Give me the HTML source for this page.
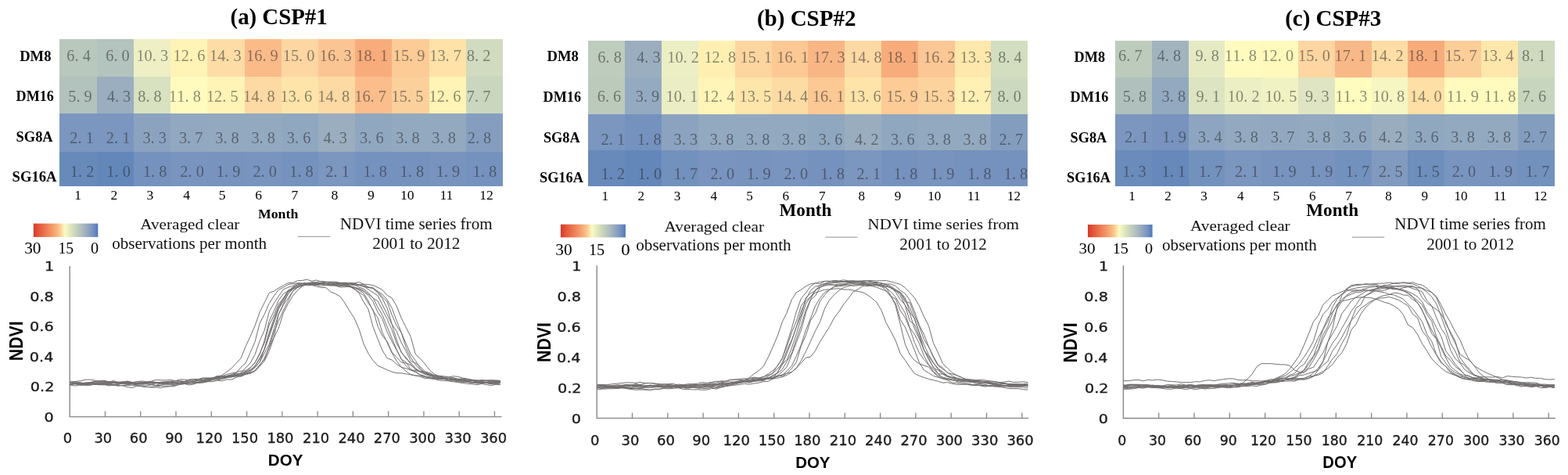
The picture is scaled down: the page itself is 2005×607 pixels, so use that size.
<!DOCTYPE html>
<html><head><meta charset="utf-8"><title>CSP figure</title>
<style>
html,body{margin:0;padding:0;background:#fff;}
svg{display:block;}
.cv{font-family:'Liberation Serif','Times New Roman',serif;font-size:20.3px;fill:#262626;fill-opacity:0.52;}
</style></head><body>
<svg width="2005" height="607" viewBox="0 0 2005 607">
<defs><linearGradient id="cb" x1="0" x2="1" y1="0" y2="0">
<stop offset="0" stop-color="#d8392a"/><stop offset="0.1" stop-color="#e55c3e"/><stop offset="0.2" stop-color="#ee7c55"/>
<stop offset="0.3" stop-color="#f49d6c"/><stop offset="0.38" stop-color="#f8bc85"/><stop offset="0.43" stop-color="#fcd69a"/>
<stop offset="0.46" stop-color="#fcedb2"/><stop offset="0.485" stop-color="#fafbc2"/><stop offset="0.53" stop-color="#ecf1c1"/><stop offset="0.62" stop-color="#d0dbbd"/>
<stop offset="0.7" stop-color="#bdc8bc"/><stop offset="0.78" stop-color="#a5b6bf"/><stop offset="0.86" stop-color="#8ca2c1"/>
<stop offset="0.93" stop-color="#7391c0"/><stop offset="1" stop-color="#4b78b8"/></linearGradient></defs>
<rect width="2005" height="607" fill="#fff"/>
<rect x="76" y="50" width="48" height="48" fill="#b9c8bc"/>
<rect x="124" y="50" width="47" height="48" fill="#b3c3bd"/>
<rect x="171" y="50" width="47" height="48" fill="#eeefc4"/>
<rect x="218" y="50" width="47" height="48" fill="#fff3b5"/>
<rect x="265" y="50" width="48" height="48" fill="#fddda5"/>
<rect x="313" y="50" width="47" height="48" fill="#fabb89"/>
<rect x="360" y="50" width="47" height="48" fill="#fdd6a1"/>
<rect x="407" y="50" width="47" height="48" fill="#fbc593"/>
<rect x="454" y="50" width="47" height="48" fill="#f8ac7c"/>
<rect x="501" y="50" width="48" height="48" fill="#fccb96"/>
<rect x="549" y="50" width="47" height="48" fill="#fee2a7"/>
<rect x="596" y="50" width="47" height="48" fill="#d0dbbf"/>
<rect x="76" y="98" width="48" height="47" fill="#b2c2bd"/>
<rect x="124" y="98" width="47" height="47" fill="#9aaebf"/>
<rect x="171" y="98" width="47" height="47" fill="#d8e1c0"/>
<rect x="218" y="98" width="47" height="47" fill="#fffbbf"/>
<rect x="265" y="98" width="48" height="47" fill="#fff4b6"/>
<rect x="313" y="98" width="47" height="47" fill="#fdd9a3"/>
<rect x="360" y="98" width="47" height="47" fill="#fee4a8"/>
<rect x="407" y="98" width="47" height="47" fill="#fdd9a3"/>
<rect x="454" y="98" width="47" height="47" fill="#fabd8b"/>
<rect x="501" y="98" width="48" height="47" fill="#fcd09b"/>
<rect x="549" y="98" width="47" height="47" fill="#fff3b5"/>
<rect x="596" y="98" width="47" height="47" fill="#cad6be"/>
<rect x="76" y="145" width="48" height="49" fill="#7b96bf"/>
<rect x="124" y="145" width="47" height="49" fill="#7b96bf"/>
<rect x="171" y="145" width="47" height="49" fill="#8ca3c0"/>
<rect x="218" y="145" width="47" height="49" fill="#92a8c0"/>
<rect x="265" y="145" width="48" height="49" fill="#93a9c0"/>
<rect x="313" y="145" width="47" height="49" fill="#93a9c0"/>
<rect x="360" y="145" width="47" height="49" fill="#90a7c0"/>
<rect x="407" y="145" width="47" height="49" fill="#9aaebf"/>
<rect x="454" y="145" width="47" height="49" fill="#90a7c0"/>
<rect x="501" y="145" width="48" height="49" fill="#93a9c0"/>
<rect x="549" y="145" width="47" height="49" fill="#93a9c0"/>
<rect x="596" y="145" width="47" height="49" fill="#859ebf"/>
<rect x="76" y="194" width="48" height="44" fill="#688abb"/>
<rect x="124" y="194" width="47" height="44" fill="#6487ba"/>
<rect x="171" y="194" width="47" height="44" fill="#7592be"/>
<rect x="218" y="194" width="47" height="44" fill="#7995bf"/>
<rect x="265" y="194" width="48" height="44" fill="#7793be"/>
<rect x="313" y="194" width="47" height="44" fill="#7995bf"/>
<rect x="360" y="194" width="47" height="44" fill="#7592be"/>
<rect x="407" y="194" width="47" height="44" fill="#7b96bf"/>
<rect x="454" y="194" width="47" height="44" fill="#7592be"/>
<rect x="501" y="194" width="48" height="44" fill="#7592be"/>
<rect x="549" y="194" width="47" height="44" fill="#7793be"/>
<rect x="596" y="194" width="47" height="44" fill="#7592be"/>
<text x="85.3 95.5 105.7" y="78.4" class="cv">6.4</text>
<text x="135.2 145.4 155.6" y="78.4" class="cv">6.0</text>
<text x="174.4 184.6 194.8 205" y="78.4" class="cv">10.3</text>
<text x="221.6 231.8 242 252.2" y="78.4" class="cv">12.6</text>
<text x="268 278.2 288.4 298.6" y="78.4" class="cv">14.3</text>
<text x="315 325.2 335.4 345.6" y="78.4" class="cv">16.9</text>
<text x="361.7 371.9 382.1 392.3" y="78.4" class="cv">15.0</text>
<text x="408.8 419 429.2 439.4" y="78.4" class="cv">16.3</text>
<text x="455.3 465.5 475.7 485.9" y="78.4" class="cv">18.1</text>
<text x="502.7 512.9 523.1 533.3" y="78.4" class="cv">15.9</text>
<text x="549.2 559.4 569.6 579.8" y="78.4" class="cv">13.7</text>
<text x="596.8 607 617.2" y="78.4" class="cv">8.2</text>
<text x="87.2 97.4 107.6" y="129.6" class="cv">5.9</text>
<text x="136.7 146.9 157.1" y="129.6" class="cv">4.3</text>
<text x="176.2 186.4 196.6" y="129.6" class="cv">8.8</text>
<text x="216.1 226.3 236.5 246.7" y="129.6" class="cv">11.8</text>
<text x="263.9 274.1 284.3 294.5" y="129.6" class="cv">12.5</text>
<text x="311 321.2 331.4 341.6" y="129.6" class="cv">14.8</text>
<text x="358.5 368.7 378.9 389.1" y="129.6" class="cv">13.6</text>
<text x="406.3 416.5 426.7 436.9" y="129.6" class="cv">14.8</text>
<text x="453.2 463.4 473.6 483.8" y="129.6" class="cv">16.7</text>
<text x="500.6 510.8 521 531.2" y="129.6" class="cv">15.5</text>
<text x="548.6 558.8 569 579.2" y="129.6" class="cv">12.6</text>
<text x="596.8 607 617.2" y="129.6" class="cv">7.7</text>
<text x="89.3 99.5 109.7" y="182.7" class="cv">2.1</text>
<text x="135.8 146 156.2" y="182.7" class="cv">2.1</text>
<text x="182.4 192.6 202.8" y="182.7" class="cv">3.3</text>
<text x="228.9 239.1 249.3" y="182.7" class="cv">3.7</text>
<text x="275.2 285.4 295.6" y="182.7" class="cv">3.8</text>
<text x="321.4 331.6 341.8" y="182.7" class="cv">3.8</text>
<text x="366.8 377 387.2" y="182.7" class="cv">3.6</text>
<text x="413.4 423.6 433.8" y="182.7" class="cv">4.3</text>
<text x="460 470.2 480.4" y="182.7" class="cv">3.6</text>
<text x="506.2 516.4 526.6" y="182.7" class="cv">3.8</text>
<text x="552.3 562.5 572.7" y="182.7" class="cv">3.8</text>
<text x="597.7 607.9 618.1" y="182.7" class="cv">2.8</text>
<text x="89.8 100 110.2" y="225.9" class="cv">1.2</text>
<text x="136.3 146.5 156.7" y="225.9" class="cv">1.0</text>
<text x="182.9 193.1 203.3" y="225.9" class="cv">1.8</text>
<text x="230.3 240.5 250.7" y="225.9" class="cv">2.0</text>
<text x="276.8 287 297.2" y="225.9" class="cv">1.9</text>
<text x="323.4 333.6 343.8" y="225.9" class="cv">2.0</text>
<text x="370.2 380.4 390.6" y="225.9" class="cv">1.8</text>
<text x="416.3 426.5 436.7" y="225.9" class="cv">2.1</text>
<text x="464.4 474.6 484.8" y="225.9" class="cv">1.8</text>
<text x="511.6 521.8 532" y="225.9" class="cv">1.8</text>
<text x="557.7 567.9 578.1" y="225.9" class="cv">1.9</text>
<text x="604.6 614.8 625" y="225.9" class="cv">1.8</text>
<rect x="42.8" y="285.6" width="82.5" height="17.3" fill="url(#cb)"/>
<line x1="380.9" y1="302.4" x2="422.4" y2="302.4" stroke="#a6a6a6" stroke-width="1.3"/>
<path d="M89.2 339.9V532.6H641.5" fill="none" stroke="#868686" stroke-width="1.4"/>
<path d="M134.47 532.6v-7M179.74 532.6v-7M225.01 532.6v-7M270.28 532.6v-7M315.55 532.6v-7M360.82 532.6v-7M406.09 532.6v-7M451.36 532.6v-7M496.63 532.6v-7M541.9 532.6v-7M587.17 532.6v-7M632.44 532.6v-7" stroke="#868686" stroke-width="1.3"/>
<g fill="none" stroke="#726e6e" stroke-width="1" stroke-linejoin="round"><path d="M89.2,490.36 90.71,490.86 96.75,490.77 102.78,490.35 108.82,489.96 114.85,488.72 120.89,487.37 126.92,486.65 132.96,486.6 139,488.05 145.03,489.31 151.07,488.77 157.11,489.93 163.14,490.25 169.18,489.32 175.21,489.48 181.25,488.61 187.28,489.18 193.32,489.52 199.36,490.07 205.39,489.56 211.43,489.53 217.46,488.02 223.5,486.84 229.54,486.73 235.57,487.4 241.61,487.37 247.64,487.92 253.68,488.1 259.72,486.28 265.75,484.84 271.79,483.64 277.82,481.09 283.86,479.52 289.9,475.38 295.93,470.78 301.97,464.24 308,457.82 314.04,442.85 320.08,429.92 326.11,416.01 332.15,398.76 338.19,386.75 344.22,374.31 350.26,372 356.29,368.07 362.33,364.82 368.36,361.65 374.4,361.4 380.44,358.73 386.47,358.39 392.51,357.16 398.54,359.23 404.58,358.01 410.62,360.09 416.65,360.5 422.69,360.11 428.72,360.12 434.76,361.22 440.8,361.28 446.83,361.58 452.87,363.53 458.9,366.87 464.94,369.02 470.98,374.17 477.01,381.22 483.05,384.79 489.08,396.27 495.12,407.88 501.16,421.58 507.19,438.88 513.23,449.58 519.26,458.61 525.3,463.44 531.34,470.59 537.37,475.22 543.41,476.35 549.44,477.41 555.48,480.29 561.52,480.99 567.55,482.94 573.59,483.63 579.62,484.02 585.66,484.42 591.7,484.09 597.73,485.36 603.77,485.22 609.81,487.88 615.84,488.79 621.88,489.06 627.91,490.61 633.95,489.22 639.99,488.71"/><path d="M89.2,490.43 90.71,490.45 96.75,490.16 102.78,492.25 108.82,491.3 114.85,491.9 120.89,491.2 126.92,491.64 132.96,491.88 139,491.01 145.03,491.44 151.07,491.1 157.11,490.05 163.14,490.42 169.18,491.05 175.21,490.83 181.25,490.45 187.28,490.87 193.32,490.96 199.36,492.61 205.39,490.15 211.43,491.41 217.46,490.83 223.5,491.74 229.54,489.7 235.57,489.3 241.61,489.75 247.64,490.05 253.68,489.18 259.72,487.58 265.75,486.63 271.79,484.86 277.82,483.98 283.86,482.59 289.9,480.34 295.93,478.79 301.97,476.62 308,469.37 314.04,464.11 320.08,450.52 326.11,436.51 332.15,413.14 338.19,401.52 344.22,387.58 350.26,378.11 356.29,370.32 362.33,367.23 368.36,363.67 374.4,362.64 380.44,361.64 386.47,361.85 392.51,361.31 398.54,361.16 404.58,361.28 410.62,361.67 416.65,360.77 422.69,361.2 428.72,361.59 434.76,362.19 440.8,361.44 446.83,361.52 452.87,362.51 458.9,363.72 464.94,363.4 470.98,366.91 477.01,367.77 483.05,372.42 489.08,379.71 495.12,385.67 501.16,402.56 507.19,416.26 513.23,425.38 519.26,444.44 525.3,457.24 531.34,465.92 537.37,472.43 543.41,476.29 549.44,478.91 555.48,482.08 561.52,482.82 567.55,484.27 573.59,485.5 579.62,485.58 585.66,487.24 591.7,487.31 597.73,488.43 603.77,489.59 609.81,489.15 615.84,489.6 621.88,489.07 627.91,489.33 633.95,489.77 639.99,491.65"/><path d="M89.2,490.83 90.71,490.69 96.75,490.92 102.78,491.95 108.82,489.75 114.85,490.51 120.89,489.14 126.92,488.9 132.96,489.2 139,488.04 145.03,489.08 151.07,489.16 157.11,487.9 163.14,488.79 169.18,490.55 175.21,491.82 181.25,493.98 187.28,494.21 193.32,495.08 199.36,494.92 205.39,495.58 211.43,494.4 217.46,493.88 223.5,493.51 229.54,491.28 235.57,489.87 241.61,488.06 247.64,486.05 253.68,485.4 259.72,483.41 265.75,483.71 271.79,483.2 277.82,481.03 283.86,481.93 289.9,480.54 295.93,479.3 301.97,478.22 308,476.8 314.04,470.04 320.08,464.04 326.11,452.83 332.15,435.48 338.19,422.04 344.22,398.11 350.26,387.65 356.29,378.49 362.33,369.74 368.36,367.23 374.4,365.29 380.44,362.44 386.47,363.08 392.51,362.5 398.54,362.5 404.58,363.01 410.62,363.24 416.65,364.3 422.69,363.25 428.72,364.85 434.76,365.63 440.8,364.87 446.83,366.72 452.87,366.86 458.9,369.62 464.94,372.7 470.98,377.54 477.01,385.25 483.05,398.99 489.08,407.9 495.12,424.39 501.16,436.35 507.19,447.4 513.23,459.27 519.26,467.69 525.3,473.03 531.34,475.48 537.37,479.18 543.41,481.45 549.44,481.71 555.48,483.7 561.52,484.65 567.55,484.57 573.59,483.92 579.62,484.36 585.66,485.32 591.7,484.67 597.73,485.81 603.77,485.76 609.81,486.46 615.84,486.33 621.88,486.58 627.91,487.68 633.95,487.37 639.99,488.07"/><path d="M89.2,490.78 90.71,491.52 96.75,489.45 102.78,490.44 108.82,489.11 114.85,488.78 120.89,489.07 126.92,490.05 132.96,489.87 139,491.4 145.03,489.46 151.07,490.86 157.11,489.77 163.14,489.16 169.18,490.4 175.21,490.71 181.25,491.42 187.28,490.46 193.32,491.75 199.36,489.22 205.39,488.5 211.43,489.34 217.46,489.61 223.5,489.25 229.54,489.07 235.57,488.19 241.61,488 247.64,487.19 253.68,485.76 259.72,486.27 265.75,485.71 271.79,484.8 277.82,484.35 283.86,484.46 289.9,482.82 295.93,480.32 301.97,479.51 308,477.17 314.04,474.71 320.08,470.19 326.11,463.18 332.15,452.89 338.19,435.11 344.22,410.1 350.26,397.49 356.29,383.75 362.33,375.44 368.36,371.95 374.4,367.37 380.44,365.13 386.47,364.38 392.51,364.7 398.54,364.35 404.58,365.97 410.62,367.39 416.65,367.56 422.69,372.85 428.72,375.39 434.76,378.71 440.8,387.01 446.83,397.16 452.87,406.26 458.9,420.06 464.94,439.12 470.98,451.61 477.01,460.64 483.05,467.37 489.08,469.88 495.12,472.7 501.16,475.28 507.19,476.64 513.23,476.85 519.26,477.92 525.3,478.42 531.34,479.99 537.37,480.08 543.41,481.99 549.44,482.45 555.48,483.63 561.52,483.89 567.55,482.59 573.59,483.75 579.62,485.12 585.66,486.51 591.7,486.77 597.73,488.45 603.77,488.22 609.81,488.34 615.84,487.15 621.88,489.07 627.91,488.95 633.95,488.43 639.99,489.32"/><path d="M89.2,487.62 90.71,487.97 96.75,487.38 102.78,486.72 108.82,485.27 114.85,485.1 120.89,485.97 126.92,487.64 132.96,488.37 139,488.34 145.03,488.47 151.07,488.22 157.11,488.02 163.14,487.06 169.18,488.57 175.21,487.83 181.25,487.02 187.28,487.74 193.32,487.26 199.36,485.48 205.39,485.74 211.43,485.9 217.46,485.43 223.5,486.45 229.54,487.32 235.57,487.49 241.61,485 247.64,484.46 253.68,484.3 259.72,482.97 265.75,482.91 271.79,482.88 277.82,481.44 283.86,480.68 289.9,478.47 295.93,477.06 301.97,475.76 308,474.24 314.04,473.79 320.08,469.78 326.11,463.5 332.15,451.35 338.19,438.27 344.22,415.14 350.26,403.01 356.29,388.23 362.33,381.55 368.36,370.85 374.4,369.02 380.44,366.68 386.47,364.65 392.51,362.83 398.54,361.68 404.58,361.9 410.62,362.56 416.65,364.62 422.69,364.44 428.72,363.58 434.76,364.56 440.8,364.57 446.83,365.09 452.87,369.13 458.9,374.31 464.94,385.63 470.98,395.15 477.01,417.71 483.05,433.23 489.08,447.95 495.12,457.76 501.16,460.03 507.19,465.54 513.23,469.36 519.26,470.88 525.3,472.95 531.34,473.5 537.37,475.24 543.41,477.9 549.44,478.58 555.48,480.32 561.52,480.72 567.55,482.02 573.59,481.85 579.62,480.72 585.66,481.31 591.7,483.09 597.73,483.96 603.77,485.46 609.81,485.98 615.84,486.4 621.88,486.36 627.91,486.07 633.95,486.64 639.99,487.27"/><path d="M89.2,492.82 90.71,492.2 96.75,493.1 102.78,491.49 108.82,492.12 114.85,492.07 120.89,491.1 126.92,490.92 132.96,491.46 139,491.75 145.03,492.51 151.07,491.93 157.11,492.91 163.14,492.39 169.18,492.19 175.21,492.99 181.25,492.98 187.28,492.91 193.32,491.82 199.36,492.42 205.39,492.53 211.43,490.38 217.46,491.3 223.5,490.53 229.54,489.68 235.57,490.5 241.61,489.15 247.64,488.89 253.68,489.2 259.72,488.55 265.75,487.66 271.79,487.77 277.82,486.11 283.86,486.81 289.9,484.94 295.93,485.11 301.97,482.29 308,480.36 314.04,477.82 320.08,474.77 326.11,467.68 332.15,458.85 338.19,445.93 344.22,424.78 350.26,407.33 356.29,391.74 362.33,380.64 368.36,373.23 374.4,368.56 380.44,367.22 386.47,364.56 392.51,363.56 398.54,363.7 404.58,363.49 410.62,363.44 416.65,362.41 422.69,363.1 428.72,362.17 434.76,362.57 440.8,362.58 446.83,364.88 452.87,368.48 458.9,370.55 464.94,374.65 470.98,384.54 477.01,397.23 483.05,405.9 489.08,425.17 495.12,437.86 501.16,451.1 507.19,461.3 513.23,469.16 519.26,474.33 525.3,478.89 531.34,480.1 537.37,481.22 543.41,483.55 549.44,483.75 555.48,484.56 561.52,486.03 567.55,486.45 573.59,486.94 579.62,487.84 585.66,488.49 591.7,489.61 597.73,490.34 603.77,490.82 609.81,491.72 615.84,490.45 621.88,491.54 627.91,492.51 633.95,491.3 639.99,491.37"/><path d="M89.2,488.4 90.71,488.59 96.75,487.86 102.78,489.45 108.82,489.42 114.85,489.27 120.89,490.36 126.92,490.99 132.96,490.12 139,489.06 145.03,489.46 151.07,489.53 157.11,489.72 163.14,488.41 169.18,488.81 175.21,489.81 181.25,488.87 187.28,489.73 193.32,488.5 199.36,488.65 205.39,489.05 211.43,488.57 217.46,489.06 223.5,488.56 229.54,487.6 235.57,488.18 241.61,487.21 247.64,487.83 253.68,485.53 259.72,485.4 265.75,484.62 271.79,483.56 277.82,483.86 283.86,482.54 289.9,482.51 295.93,480.81 301.97,479.79 308,477.32 314.04,476.38 320.08,473.25 326.11,467.43 332.15,457.46 338.19,446.64 344.22,430.2 350.26,412.37 356.29,394.63 362.33,385.21 368.36,375.27 374.4,369.71 380.44,366.48 386.47,364.75 392.51,363.85 398.54,361.85 404.58,363.05 410.62,361.89 416.65,362.51 422.69,363.14 428.72,363.25 434.76,364.16 440.8,365.27 446.83,365.43 452.87,367.17 458.9,368.56 464.94,370.94 470.98,375.98 477.01,380.35 483.05,392.76 489.08,402.93 495.12,417.59 501.16,432.65 507.19,446.72 513.23,458.98 519.26,462.88 525.3,471.99 531.34,474.92 537.37,478.77 543.41,480.47 549.44,483.18 555.48,482.48 561.52,483.42 567.55,483.14 573.59,483.51 579.62,482.79 585.66,484.26 591.7,484.16 597.73,485.17 603.77,486.3 609.81,487.71 615.84,488.42 621.88,489.09 627.91,489.32 633.95,490.34 639.99,488.89"/><path d="M89.2,490.39 90.71,490.63 96.75,488.78 102.78,489.84 108.82,489.35 114.85,488.99 120.89,490.57 126.92,489.76 132.96,489.51 139,490.82 145.03,491.26 151.07,492.37 157.11,492.75 163.14,494.73 169.18,495.37 175.21,493.11 181.25,493.58 187.28,494.59 193.32,494.42 199.36,493.87 205.39,493.19 211.43,493.2 217.46,493.2 223.5,492.42 229.54,491.35 235.57,490.5 241.61,490.14 247.64,489.34 253.68,489.19 259.72,489.08 265.75,487.57 271.79,484.33 277.82,483.1 283.86,482.79 289.9,481.72 295.93,480.03 301.97,479.74 308,478.83 314.04,477.25 320.08,475.26 326.11,469.41 332.15,462.95 338.19,445.67 344.22,426.57 350.26,411.17 356.29,393.28 362.33,382.88 368.36,372.88 374.4,366.67 380.44,363.82 386.47,362.86 392.51,362.95 398.54,363.22 404.58,362.5 410.62,362.3 416.65,360.64 422.69,361.52 428.72,361.82 434.76,362.06 440.8,362.05 446.83,361.46 452.87,362.01 458.9,364.31 464.94,365.74 470.98,369.82 477.01,373.83 483.05,377.77 489.08,389.68 495.12,401.97 501.16,414.65 507.19,434.38 513.23,450.74 519.26,456.75 525.3,465.53 531.34,472.41 537.37,474.95 543.41,478.43 549.44,480.32 555.48,481.66 561.52,481.91 567.55,483.39 573.59,485.44 579.62,486.63 585.66,487.89 591.7,488.45 597.73,487.83 603.77,488.56 609.81,488.57 615.84,487.59 621.88,488.22 627.91,487.56 633.95,488.05 639.99,487.48"/><path d="M89.2,487.24 90.71,488.06 96.75,489.46 102.78,488.58 108.82,490.22 114.85,489.63 120.89,488.05 126.92,487.66 132.96,486.28 139,487.78 145.03,487.74 151.07,488.37 157.11,488.28 163.14,487.23 169.18,488.86 175.21,487.78 181.25,488.23 187.28,488.87 193.32,488.36 199.36,489.1 205.39,488.25 211.43,487.82 217.46,487.19 223.5,487.05 229.54,484.96 235.57,484.92 241.61,485.74 247.64,484.84 253.68,485.81 259.72,485.59 265.75,484.13 271.79,483.49 277.82,482.5 283.86,481.06 289.9,480.48 295.93,480.02 301.97,477.28 308,477.63 314.04,475.73 320.08,472.32 326.11,469.4 332.15,462.56 338.19,451.16 344.22,440.12 350.26,420.6 356.29,401.2 362.33,388.3 368.36,375.76 374.4,368.1 380.44,364.26 386.47,362.82 392.51,363.03 398.54,361 404.58,362.58 410.62,362.15 416.65,362.21 422.69,363.46 428.72,362.99 434.76,362 440.8,363.96 446.83,363.13 452.87,363.79 458.9,364.14 464.94,366.4 470.98,367.54 477.01,368.23 483.05,374.54 489.08,381.7 495.12,393.8 501.16,414.11 507.19,423.35 513.23,438.01 519.26,448.92 525.3,461.47 531.34,464.01 537.37,468.64 543.41,474.76 549.44,476.5 555.48,479.92 561.52,480.2 567.55,480.75 573.59,481.81 579.62,482.71 585.66,484.96 591.7,486.05 597.73,486.01 603.77,485.63 609.81,487 615.84,485.62 621.88,486.09 627.91,485.76 633.95,486.07 639.99,486.5"/><path d="M89.2,490.64 90.71,491.2 96.75,490.3 102.78,490.17 108.82,490.54 114.85,490.55 120.89,491.27 126.92,490.66 132.96,491.14 139,492.86 145.03,492.11 151.07,493.25 157.11,492.34 163.14,491.7 169.18,490.34 175.21,491.33 181.25,489.68 187.28,488.39 193.32,489.96 199.36,488.94 205.39,491.1 211.43,490.08 217.46,490.98 223.5,489.23 229.54,490.88 235.57,490.65 241.61,489.51 247.64,489.24 253.68,488.3 259.72,487.4 265.75,486.91 271.79,485.9 277.82,486.1 283.86,484 289.9,482.58 295.93,482.07 301.97,479.87 308,481.22 314.04,478.49 320.08,476.54 326.11,473.55 332.15,466.06 338.19,459.38 344.22,443.85 350.26,430.73 356.29,401.52 362.33,389.7 368.36,381.22 374.4,372.34 380.44,367.46 386.47,364.73 392.51,362.48 398.54,363.11 404.58,364.01 410.62,363.14 416.65,362.94 422.69,363.51 428.72,364.66 434.76,363.23 440.8,363.31 446.83,363.85 452.87,364.65 458.9,364.63 464.94,365.14 470.98,366.97 477.01,368.79 483.05,372.52 489.08,376.33 495.12,383.06 501.16,393.77 507.19,409.95 513.23,424.98 519.26,439.23 525.3,452.94 531.34,460.65 537.37,470.88 543.41,476.7 549.44,479.88 555.48,481.95 561.52,483.82 567.55,483.89 573.59,486.16 579.62,485.46 585.66,485.24 591.7,485.94 597.73,487.71 603.77,488.11 609.81,490.2 615.84,489.96 621.88,489.59 627.91,490.7 633.95,490.97 639.99,491.39"/><path d="M89.2,491.24 90.71,490.68 96.75,490.57 102.78,489.74 108.82,489.65 114.85,489.29 120.89,487.33 126.92,488.16 132.96,487.54 139,488.3 145.03,486.55 151.07,488.77 157.11,488.79 163.14,489.08 169.18,490.59 175.21,489.16 181.25,489.78 187.28,488.79 193.32,488.84 199.36,489.16 205.39,489.58 211.43,488.88 217.46,487.89 223.5,488.61 229.54,489.38 235.57,487.95 241.61,486.82 247.64,487.21 253.68,486.45 259.72,483.74 265.75,483.97 271.79,483.44 277.82,480.41 283.86,482 289.9,480.79 295.93,480.46 301.97,480.65 308,478.92 314.04,477.71 320.08,477.47 326.11,473.36 332.15,466.87 338.19,457.64 344.22,443.24 350.26,424.31 356.29,410.16 362.33,396.54 368.36,384.61 374.4,371.79 380.44,367.34 386.47,365.06 392.51,363.88 398.54,364.34 404.58,364.28 410.62,365.45 416.65,364.34 422.69,365.11 428.72,365.06 434.76,366.96 440.8,366.75 446.83,366.25 452.87,369.41 458.9,373.49 464.94,377.26 470.98,387.32 477.01,395.76 483.05,416.98 489.08,429.37 495.12,436.36 501.16,450.2 507.19,456.54 513.23,463.02 519.26,464 525.3,466.67 531.34,471.69 537.37,474.44 543.41,475.14 549.44,478.75 555.48,479.23 561.52,482.59 567.55,483.78 573.59,483.12 579.62,485.51 585.66,485.59 591.7,485.56 597.73,485.95 603.77,486.37 609.81,486.06 615.84,486.6 621.88,486.28 627.91,487.04 633.95,486.22 639.99,486.57"/><path d="M89.2,488.43 90.71,489.77 96.75,489.69 102.78,491.75 108.82,492.32 114.85,492.05 120.89,490.94 126.92,491.79 132.96,491.07 139,489.62 145.03,489.23 151.07,488.61 157.11,489.77 163.14,490.98 169.18,490.64 175.21,490.21 181.25,490.46 187.28,489.7 193.32,487.61 199.36,488.35 205.39,488.65 211.43,488.21 217.46,487.93 223.5,488.6 229.54,489.53 235.57,490.34 241.61,491.92 247.64,491.02 253.68,488.46 259.72,486.28 265.75,485.84 271.79,483.83 277.82,483.08 283.86,481.9 289.9,481.38 295.93,481.72 301.97,481 308,479.76 314.04,478.29 320.08,477.04 326.11,474.45 332.15,468.19 338.19,461.3 344.22,448.73 350.26,431.6 356.29,419.27 362.33,399.98 368.36,388.14 374.4,378.06 380.44,370.86 386.47,365.9 392.51,362.75 398.54,360.87 404.58,360.59 410.62,359.38 416.65,359.96 422.69,361.12 428.72,361.04 434.76,362.56 440.8,362.72 446.83,362.22 452.87,361.9 458.9,360.57 464.94,363.05 470.98,363.6 477.01,364.61 483.05,367.3 489.08,370.54 495.12,377.37 501.16,380.93 507.19,391.15 513.23,406.6 519.26,418.52 525.3,430.63 531.34,452.89 537.37,458.14 543.41,465.11 549.44,472.91 555.48,478.07 561.52,480.86 567.55,484.68 573.59,485.32 579.62,485.69 585.66,485.56 591.7,486.19 597.73,487.12 603.77,486.22 609.81,488.61 615.84,488.91 621.88,488.26 627.91,488.79 633.95,489.55 639.99,488.5"/></g>
<rect x="752" y="52" width="47" height="47" fill="#beccbd"/>
<rect x="799" y="52" width="47" height="47" fill="#9aaebf"/>
<rect x="846" y="52" width="47" height="47" fill="#eceec4"/>
<rect x="893" y="52" width="47" height="47" fill="#fff0b2"/>
<rect x="940" y="52" width="47" height="47" fill="#fdd59f"/>
<rect x="987" y="52" width="46" height="47" fill="#fcc894"/>
<rect x="1033" y="52" width="47" height="47" fill="#f9b685"/>
<rect x="1080" y="52" width="47" height="47" fill="#fdd9a3"/>
<rect x="1127" y="52" width="47" height="47" fill="#f8ac7c"/>
<rect x="1174" y="52" width="47" height="47" fill="#fbc794"/>
<rect x="1221" y="52" width="46" height="47" fill="#fee8ac"/>
<rect x="1267" y="52" width="47" height="47" fill="#d3ddc0"/>
<rect x="752" y="99" width="47" height="47" fill="#bccabc"/>
<rect x="799" y="99" width="47" height="47" fill="#94aac0"/>
<rect x="846" y="99" width="47" height="47" fill="#ebedc4"/>
<rect x="893" y="99" width="47" height="47" fill="#fff5b8"/>
<rect x="940" y="99" width="47" height="47" fill="#fee5aa"/>
<rect x="987" y="99" width="46" height="47" fill="#fddca4"/>
<rect x="1033" y="99" width="47" height="47" fill="#fcc894"/>
<rect x="1080" y="99" width="47" height="47" fill="#fee4a8"/>
<rect x="1127" y="99" width="47" height="47" fill="#fccb96"/>
<rect x="1174" y="99" width="47" height="47" fill="#fdd39d"/>
<rect x="1221" y="99" width="46" height="47" fill="#fff1b4"/>
<rect x="1267" y="99" width="47" height="47" fill="#cdd9bf"/>
<rect x="752" y="146" width="47" height="46" fill="#7b96bf"/>
<rect x="799" y="146" width="47" height="46" fill="#7592be"/>
<rect x="846" y="146" width="47" height="46" fill="#8ca3c0"/>
<rect x="893" y="146" width="47" height="46" fill="#93a9c0"/>
<rect x="940" y="146" width="47" height="46" fill="#93a9c0"/>
<rect x="987" y="146" width="46" height="46" fill="#93a9c0"/>
<rect x="1033" y="146" width="47" height="46" fill="#90a7c0"/>
<rect x="1080" y="146" width="47" height="46" fill="#99adbf"/>
<rect x="1127" y="146" width="47" height="46" fill="#90a7c0"/>
<rect x="1174" y="146" width="47" height="46" fill="#93a9c0"/>
<rect x="1221" y="146" width="46" height="46" fill="#93a9c0"/>
<rect x="1267" y="146" width="47" height="46" fill="#839dbf"/>
<rect x="752" y="192" width="47" height="46" fill="#688abb"/>
<rect x="799" y="192" width="47" height="46" fill="#6487ba"/>
<rect x="846" y="192" width="47" height="46" fill="#7391bd"/>
<rect x="893" y="192" width="47" height="46" fill="#7995bf"/>
<rect x="940" y="192" width="47" height="46" fill="#7793be"/>
<rect x="987" y="192" width="46" height="46" fill="#7995bf"/>
<rect x="1033" y="192" width="47" height="46" fill="#7592be"/>
<rect x="1080" y="192" width="47" height="46" fill="#7b96bf"/>
<rect x="1127" y="192" width="47" height="46" fill="#7592be"/>
<rect x="1174" y="192" width="47" height="46" fill="#7793be"/>
<rect x="1221" y="192" width="46" height="46" fill="#7592be"/>
<rect x="1267" y="192" width="47" height="46" fill="#7592be"/>
<text x="764.3 774.5 784.7" y="80.4" class="cv">6.8</text>
<text x="814.1 824.3 834.5" y="80.4" class="cv">4.3</text>
<text x="853.2 863.4 873.6 883.8" y="80.4" class="cv">10.2</text>
<text x="900.4 910.6 920.8 931" y="80.4" class="cv">12.8</text>
<text x="946.5 956.7 966.9 977.1" y="80.4" class="cv">15.1</text>
<text x="993.3 1003.5 1013.7 1023.9" y="80.4" class="cv">16.1</text>
<text x="1039.9 1050.1 1060.3 1070.5" y="80.4" class="cv">17.3</text>
<text x="1087 1097.2 1107.4 1117.6" y="80.4" class="cv">14.8</text>
<text x="1133.7 1143.9 1154.1 1164.3" y="80.4" class="cv">18.1</text>
<text x="1181 1191.2 1201.4 1211.6" y="80.4" class="cv">16.2</text>
<text x="1227.8 1238 1248.2 1258.4" y="80.4" class="cv">13.3</text>
<text x="1276.2 1286.4 1296.6" y="80.4" class="cv">8.4</text>
<text x="763.7 773.9 784.1" y="129.9" class="cv">6.6</text>
<text x="812.7 822.9 833.1" y="129.9" class="cv">3.9</text>
<text x="851.6 861.8 872 882.2" y="129.9" class="cv">10.1</text>
<text x="898.7 908.9 919.1 929.3" y="129.9" class="cv">12.4</text>
<text x="945.5 955.7 965.9 976.1" y="129.9" class="cv">13.5</text>
<text x="992.5 1002.7 1012.9 1023.1" y="129.9" class="cv">14.4</text>
<text x="1038.9 1049.1 1059.3 1069.5" y="129.9" class="cv">16.1</text>
<text x="1086 1096.2 1106.4 1116.6" y="129.9" class="cv">13.6</text>
<text x="1133.2 1143.4 1153.6 1163.8" y="129.9" class="cv">15.9</text>
<text x="1180.4 1190.6 1200.8 1211" y="129.9" class="cv">15.3</text>
<text x="1227.2 1237.4 1247.6 1257.8" y="129.9" class="cv">12.7</text>
<text x="1275.4 1285.6 1295.8" y="129.9" class="cv">8.0</text>
<text x="768.6 778.8 789" y="184.8" class="cv">2.1</text>
<text x="815.1 825.3 835.5" y="184.8" class="cv">1.8</text>
<text x="861.6 871.8 882" y="184.8" class="cv">3.3</text>
<text x="907.8 918 928.2" y="184.8" class="cv">3.8</text>
<text x="953.9 964.1 974.3" y="184.8" class="cv">3.8</text>
<text x="1000.1 1010.3 1020.5" y="184.8" class="cv">3.8</text>
<text x="1046.8 1057 1067.2" y="184.8" class="cv">3.6</text>
<text x="1093 1103.2 1113.4" y="184.8" class="cv">4.2</text>
<text x="1139.1 1149.3 1159.5" y="184.8" class="cv">3.6</text>
<text x="1185.3 1195.5 1205.7" y="184.8" class="cv">3.8</text>
<text x="1231.4 1241.6 1251.8" y="184.8" class="cv">3.8</text>
<text x="1277.6 1287.8 1298" y="184.8" class="cv">2.7</text>
<text x="768.6 778.8 789" y="228.7" class="cv">1.2</text>
<text x="815.5 825.7 835.9" y="228.7" class="cv">1.0</text>
<text x="861.6 871.8 882" y="228.7" class="cv">1.7</text>
<text x="908.6 918.8 929" y="228.7" class="cv">2.0</text>
<text x="955.1 965.3 975.5" y="228.7" class="cv">1.9</text>
<text x="1002.5 1012.7 1022.9" y="228.7" class="cv">2.0</text>
<text x="1049.3 1059.5 1069.7" y="228.7" class="cv">1.8</text>
<text x="1095.5 1105.7 1115.9" y="228.7" class="cv">2.1</text>
<text x="1142.8 1153 1163.2" y="228.7" class="cv">1.8</text>
<text x="1189.9 1200.1 1210.3" y="228.7" class="cv">1.9</text>
<text x="1237.2 1247.4 1257.6" y="228.7" class="cv">1.8</text>
<text x="1283.7 1293.9 1304.1" y="228.7" class="cv">1.8</text>
<rect x="716.9" y="286.7" width="83" height="16.7" fill="url(#cb)"/>
<line x1="1055.2" y1="303.2" x2="1096.5" y2="303.2" stroke="#a6a6a6" stroke-width="1.3"/>
<path d="M763.2 339.3V534.4H1315.2" fill="none" stroke="#868686" stroke-width="1.4"/>
<path d="M808.5 534.4v-7M853.8 534.4v-7M899.1 534.4v-7M944.4 534.4v-7M989.7 534.4v-7M1035 534.4v-7M1080.3 534.4v-7M1125.6 534.4v-7M1170.9 534.4v-7M1216.2 534.4v-7M1261.5 534.4v-7M1306.8 534.4v-7" stroke="#868686" stroke-width="1.3"/>
<g fill="none" stroke="#726e6e" stroke-width="1" stroke-linejoin="round"><path d="M763.2,492.16 764.71,492.74 770.75,492.7 776.79,493.68 782.83,494.07 788.87,493.83 794.91,493.58 800.95,494.1 806.99,492.83 813.03,492.07 819.07,494.02 825.11,494.2 831.15,492.16 837.19,492.7 843.23,493.76 849.27,493.89 855.31,494.05 861.35,492.89 867.39,492.67 873.43,493.43 879.47,493.63 885.51,494.37 891.55,491.46 897.59,492.4 903.63,492.3 909.67,491.2 915.71,491.29 921.75,491.69 927.79,490.22 933.83,489.57 939.87,489.47 945.91,487.56 951.95,485.59 957.99,482.95 964.03,477.81 970.07,473.71 976.11,468.45 982.15,456.83 988.19,443.65 994.23,429.31 1000.27,411.42 1006.31,399.2 1012.35,382.89 1018.39,373.75 1024.43,370.2 1030.47,365.77 1036.51,362.73 1042.55,361.93 1048.59,360.28 1054.63,359.4 1060.67,359.48 1066.71,358.94 1072.75,359.8 1078.79,359.66 1084.83,359.31 1090.87,358.91 1096.91,358.99 1102.95,358.95 1108.99,358.35 1115.03,360.18 1121.07,360.62 1127.11,362.54 1133.15,363.39 1139.19,365.86 1145.23,370.02 1151.27,373.41 1157.31,380.61 1163.35,398.97 1169.39,406.95 1175.43,425.61 1181.47,447.62 1187.51,454.96 1193.55,464.26 1199.59,471.94 1205.63,476.91 1211.67,480.64 1217.71,482.42 1223.75,483.88 1229.79,485.67 1235.83,487.32 1241.87,488.4 1247.91,488.39 1253.95,489.42 1259.99,489.34 1266.03,489.4 1272.07,491.8 1278.11,491.42 1284.15,489.99 1290.19,491.26 1296.23,491.61 1302.27,491.03 1308.31,491.7 1314.35,491.69"/><path d="M763.2,495.88 764.71,495.77 770.75,496.5 776.79,495.65 782.83,495.59 788.87,495.78 794.91,495.47 800.95,495.9 806.99,495.77 813.03,496.3 819.07,496.62 825.11,497.45 831.15,498.4 837.19,497.1 843.23,497.09 849.27,496.51 855.31,496.82 861.35,496.32 867.39,495.65 873.43,494.35 879.47,494.58 885.51,494.34 891.55,496.23 897.59,496.25 903.63,496.52 909.67,495.42 915.71,497.22 921.75,495.2 927.79,493.7 933.83,492.06 939.87,489.32 945.91,489.58 951.95,488.13 957.99,487.92 964.03,486.42 970.07,486.12 976.11,483.73 982.15,480.87 988.19,476.22 994.23,467.12 1000.27,458.36 1006.31,438.88 1012.35,419.74 1018.39,397.98 1024.43,381.37 1030.47,374.27 1036.51,365.75 1042.55,361.66 1048.59,362.58 1054.63,359.35 1060.67,359.19 1066.71,359.93 1072.75,360.33 1078.79,360.49 1084.83,359.42 1090.87,358.71 1096.91,360.86 1102.95,360.03 1108.99,360.77 1115.03,360.55 1121.07,362.54 1127.11,365.95 1133.15,371.37 1139.19,379.09 1145.23,387.59 1151.27,408.36 1157.31,417.96 1163.35,432.44 1169.39,447.35 1175.43,463.17 1181.47,473 1187.51,476.74 1193.55,480.35 1199.59,482.24 1205.63,483.77 1211.67,485.97 1217.71,488.93 1223.75,489.29 1229.79,490.57 1235.83,491.08 1241.87,492.06 1247.91,492.48 1253.95,492.06 1259.99,492.57 1266.03,493.68 1272.07,493.4 1278.11,492.24 1284.15,492.84 1290.19,494.51 1296.23,494.82 1302.27,494.64 1308.31,494.87 1314.35,495.92"/><path d="M763.2,492.03 764.71,492.61 770.75,491.66 776.79,493.5 782.83,492.91 788.87,491.84 794.91,492.2 800.95,491.36 806.99,492.47 813.03,492.3 819.07,492.46 825.11,493.88 831.15,493.3 837.19,492.13 843.23,492.2 849.27,493.15 855.31,491.53 861.35,492.79 867.39,492.99 873.43,493.62 879.47,492.95 885.51,491.12 891.55,492.05 897.59,490.45 903.63,490.7 909.67,490.71 915.71,490.81 921.75,489.44 927.79,489.73 933.83,489.65 939.87,488.37 945.91,487.52 951.95,485.78 957.99,485.38 964.03,484.3 970.07,483.58 976.11,481.68 982.15,477.95 988.19,473.58 994.23,467.74 1000.27,457.37 1006.31,442.54 1012.35,424.84 1018.39,410.39 1024.43,390.91 1030.47,382.5 1036.51,371.27 1042.55,366.07 1048.59,364.85 1054.63,362.48 1060.67,362.18 1066.71,361.56 1072.75,360.94 1078.79,359.89 1084.83,359.97 1090.87,360.08 1096.91,360.64 1102.95,360.94 1108.99,362.57 1115.03,362.37 1121.07,363.55 1127.11,364.56 1133.15,368.03 1139.19,372.71 1145.23,379.8 1151.27,389.98 1157.31,400 1163.35,418.82 1169.39,427.15 1175.43,438.84 1181.47,454.57 1187.51,465.78 1193.55,472.06 1199.59,477.61 1205.63,478.17 1211.67,481.6 1217.71,483.18 1223.75,485.73 1229.79,485.82 1235.83,486.38 1241.87,486.42 1247.91,487.45 1253.95,487.22 1259.99,488.61 1266.03,488.65 1272.07,489.34 1278.11,488.71 1284.15,489.99 1290.19,490.67 1296.23,491.59 1302.27,491.07 1308.31,490.67 1314.35,490.04"/><path d="M763.2,496.73 764.71,495.43 770.75,494.97 776.79,494.61 782.83,494.14 788.87,494.34 794.91,495.35 800.95,495.46 806.99,496.47 813.03,496.48 819.07,496.75 825.11,494.69 831.15,495.18 837.19,494.76 843.23,494.09 849.27,494.29 855.31,495.24 861.35,493.86 867.39,495.67 873.43,495.58 879.47,496.22 885.51,494.98 891.55,494.15 897.59,494.56 903.63,495.06 909.67,493.92 915.71,494.28 921.75,492.82 927.79,491.49 933.83,491.18 939.87,489.95 945.91,489.07 951.95,488.17 957.99,488.22 964.03,487.32 970.07,486.9 976.11,486.41 982.15,483.62 988.19,480.84 994.23,476.29 1000.27,463.08 1006.31,447.5 1012.35,434.37 1018.39,417.74 1024.43,402.78 1030.47,380.36 1036.51,375.07 1042.55,371.55 1048.59,364.22 1054.63,362.44 1060.67,360.33 1066.71,358.3 1072.75,358.92 1078.79,357.78 1084.83,358.9 1090.87,359.79 1096.91,359.67 1102.95,360.24 1108.99,360.22 1115.03,360.36 1121.07,361.85 1127.11,361.6 1133.15,364.16 1139.19,368.37 1145.23,371.26 1151.27,377.9 1157.31,390.11 1163.35,410.18 1169.39,414.55 1175.43,430.33 1181.47,447.12 1187.51,459.29 1193.55,469.07 1199.59,477.46 1205.63,483.51 1211.67,484.81 1217.71,485.5 1223.75,487.01 1229.79,486.21 1235.83,487.62 1241.87,487.3 1247.91,490.33 1253.95,490.69 1259.99,491.44 1266.03,493.21 1272.07,492.63 1278.11,493.74 1284.15,494.13 1290.19,493.19 1296.23,492.95 1302.27,493.85 1308.31,493.25 1314.35,493.63"/><path d="M763.2,491.96 764.71,492.08 770.75,491.85 776.79,491.54 782.83,490.75 788.87,490.17 794.91,489.61 800.95,488.84 806.99,489.05 813.03,489.29 819.07,488.38 825.11,489.63 831.15,489.44 837.19,490.29 843.23,491.9 849.27,490.55 855.31,491.79 861.35,492.19 867.39,491.11 873.43,491.72 879.47,490.74 885.51,490.75 891.55,490.37 897.59,488.54 903.63,489.26 909.67,488.43 915.71,487.3 921.75,487.16 927.79,487.25 933.83,485.48 939.87,484.98 945.91,485.11 951.95,486.13 957.99,483.27 964.03,483.34 970.07,483.05 976.11,481.4 982.15,479.42 988.19,477.45 994.23,471 1000.27,465.09 1006.31,460.02 1012.35,444.51 1018.39,426.76 1024.43,406.52 1030.47,388.24 1036.51,379.38 1042.55,371.47 1048.59,366.46 1054.63,365.18 1060.67,363.55 1066.71,364.16 1072.75,364.59 1078.79,363.42 1084.83,363.17 1090.87,362.46 1096.91,362.92 1102.95,362.58 1108.99,363.1 1115.03,364.16 1121.07,363.49 1127.11,364.56 1133.15,365.87 1139.19,367.12 1145.23,371.11 1151.27,374.96 1157.31,385.64 1163.35,386.84 1169.39,402.55 1175.43,417.41 1181.47,433.57 1187.51,443.26 1193.55,455.37 1199.59,466.01 1205.63,470.11 1211.67,476.38 1217.71,478.11 1223.75,479.57 1229.79,482.57 1235.83,484.93 1241.87,486.25 1247.91,486.1 1253.95,486.93 1259.99,487.43 1266.03,487.78 1272.07,487.78 1278.11,488.57 1284.15,488.09 1290.19,487.08 1296.23,488.55 1302.27,488.23 1308.31,487.86 1314.35,488.52"/><path d="M763.2,494.43 764.71,492.61 770.75,493.45 776.79,495.87 782.83,494.28 788.87,494.97 794.91,493.94 800.95,492.6 806.99,492.68 813.03,490.57 819.07,492.01 825.11,492.36 831.15,493.5 837.19,494.28 843.23,494.2 849.27,494.94 855.31,493.52 861.35,494.05 867.39,494.07 873.43,492.54 879.47,492.58 885.51,493.38 891.55,493.01 897.59,493.22 903.63,492.15 909.67,491.87 915.71,491.16 921.75,488.79 927.79,487.92 933.83,487.77 939.87,488.17 945.91,487.81 951.95,487.77 957.99,488.93 964.03,487.41 970.07,484.25 976.11,485.37 982.15,482.95 988.19,479.56 994.23,476.81 1000.27,472.17 1006.31,461.71 1012.35,451.23 1018.39,433.38 1024.43,415.58 1030.47,395.8 1036.51,382.49 1042.55,370.46 1048.59,367.34 1054.63,364.08 1060.67,364.02 1066.71,364.25 1072.75,362.85 1078.79,362.7 1084.83,361.78 1090.87,360.72 1096.91,360.11 1102.95,361.54 1108.99,360.57 1115.03,360.9 1121.07,360.89 1127.11,362.09 1133.15,363.01 1139.19,363 1145.23,365.49 1151.27,371.12 1157.31,375.11 1163.35,383.51 1169.39,397.81 1175.43,415.41 1181.47,427.29 1187.51,442.99 1193.55,456.82 1199.59,467.54 1205.63,471.7 1211.67,475.87 1217.71,480.37 1223.75,483.44 1229.79,484.67 1235.83,486.63 1241.87,486.81 1247.91,486.33 1253.95,487.83 1259.99,487.23 1266.03,489.3 1272.07,490.86 1278.11,492.2 1284.15,492.99 1290.19,493.9 1296.23,493.22 1302.27,493.02 1308.31,491.83 1314.35,491"/><path d="M763.2,494.58 764.71,494.49 770.75,495.13 776.79,494.3 782.83,495.33 788.87,495.44 794.91,495.06 800.95,495.63 806.99,495.65 813.03,493.58 819.07,493.39 825.11,493.87 831.15,492.12 837.19,493.28 843.23,493.63 849.27,493.62 855.31,494.24 861.35,494.44 867.39,494.38 873.43,495.02 879.47,495.69 885.51,495.22 891.55,494.86 897.59,495.12 903.63,493.97 909.67,493.71 915.71,492.52 921.75,490.13 927.79,491.35 933.83,489.06 939.87,488.28 945.91,487.85 951.95,487.31 957.99,486.99 964.03,486.54 970.07,485.87 976.11,485.14 982.15,483.95 988.19,484.29 994.23,480.2 1000.27,475.01 1006.31,468.78 1012.35,453.01 1018.39,437.58 1024.43,421.91 1030.47,399.49 1036.51,383.43 1042.55,378.07 1048.59,367.42 1054.63,363.51 1060.67,361.65 1066.71,360.28 1072.75,359.93 1078.79,359.93 1084.83,360.44 1090.87,360.85 1096.91,360.75 1102.95,359.11 1108.99,358.49 1115.03,358.57 1121.07,358.93 1127.11,358.72 1133.15,358.6 1139.19,360 1145.23,361.67 1151.27,363.36 1157.31,367.63 1163.35,373.86 1169.39,380.54 1175.43,390.76 1181.47,404.63 1187.51,416.38 1193.55,438.48 1199.59,450.93 1205.63,464.85 1211.67,470.54 1217.71,476.22 1223.75,480.04 1229.79,482.18 1235.83,484.96 1241.87,485.58 1247.91,487.43 1253.95,489.66 1259.99,489.04 1266.03,490.68 1272.07,492.18 1278.11,491.81 1284.15,493.19 1290.19,492.55 1296.23,493.45 1302.27,493.68 1308.31,492.31 1314.35,494.01"/><path d="M763.2,494.02 764.71,492.84 770.75,494.09 776.79,493.54 782.83,493.27 788.87,494.56 794.91,494.46 800.95,494.36 806.99,493.92 813.03,494.16 819.07,494.11 825.11,493.35 831.15,492.45 837.19,492.6 843.23,492.47 849.27,493.02 855.31,492.39 861.35,493.26 867.39,493.22 873.43,493.36 879.47,492.56 885.51,493.65 891.55,494.14 897.59,494.24 903.63,493.2 909.67,492.35 915.71,492.2 921.75,491.31 927.79,491.16 933.83,489.78 939.87,488.06 945.91,486.33 951.95,487.65 957.99,486.21 964.03,485.38 970.07,485.19 976.11,484.78 982.15,484.14 988.19,483.01 994.23,480.77 1000.27,479.64 1006.31,473.91 1012.35,467.58 1018.39,454.75 1024.43,440.38 1030.47,421.56 1036.51,406.68 1042.55,390.96 1048.59,380.96 1054.63,373.6 1060.67,370.78 1066.71,366.47 1072.75,365.93 1078.79,365.07 1084.83,363.95 1090.87,365.31 1096.91,364.76 1102.95,364.55 1108.99,365.62 1115.03,364.74 1121.07,364.65 1127.11,366.35 1133.15,367.74 1139.19,377.94 1145.23,390.62 1151.27,414.73 1157.31,439.66 1163.35,453.07 1169.39,460.54 1175.43,464.81 1181.47,466.95 1187.51,468.9 1193.55,475.7 1199.59,481.32 1205.63,484.11 1211.67,484.07 1217.71,485.95 1223.75,486.34 1229.79,487.11 1235.83,487.5 1241.87,488.28 1247.91,488.73 1253.95,489.1 1259.99,489.77 1266.03,490.11 1272.07,490.39 1278.11,490.03 1284.15,490.52 1290.19,490.58 1296.23,490.91 1302.27,491.32 1308.31,491.87 1314.35,492.12"/><path d="M763.2,492.26 764.71,491.17 770.75,492.11 776.79,492.79 782.83,492.93 788.87,493.05 794.91,493.74 800.95,491.71 806.99,491.78 813.03,491.14 819.07,491.63 825.11,489.81 831.15,489.52 837.19,490.04 843.23,490.6 849.27,491.42 855.31,490.57 861.35,490.54 867.39,492.27 873.43,492.02 879.47,491.8 885.51,491.91 891.55,492.29 897.59,491.67 903.63,491.42 909.67,489.1 915.71,489.08 921.75,487.22 927.79,487.12 933.83,485.4 939.87,485.21 945.91,484.29 951.95,483.74 957.99,483.97 964.03,482.06 970.07,483.29 976.11,483.45 982.15,484.03 988.19,482.42 994.23,481.43 1000.27,478.72 1006.31,477.09 1012.35,475.28 1018.39,470.35 1024.43,460.79 1030.47,449.28 1036.51,436.17 1042.55,422.87 1048.59,411.45 1054.63,393.99 1060.67,383.36 1066.71,376.56 1072.75,371.29 1078.79,367.36 1084.83,365.83 1090.87,363.98 1096.91,363.75 1102.95,363.38 1108.99,363.88 1115.03,362.74 1121.07,363.72 1127.11,363.63 1133.15,366.07 1139.19,367.28 1145.23,373.43 1151.27,382.98 1157.31,389.6 1163.35,400.51 1169.39,419.86 1175.43,433.14 1181.47,446.95 1187.51,457.64 1193.55,470.14 1199.59,473.19 1205.63,477.61 1211.67,480.77 1217.71,482.26 1223.75,483.01 1229.79,484.73 1235.83,484.67 1241.87,484.98 1247.91,485.76 1253.95,485.37 1259.99,485.98 1266.03,486.86 1272.07,487.55 1278.11,489.25 1284.15,489.62 1290.19,490.76 1296.23,490.7 1302.27,491.13 1308.31,491.62 1314.35,491.82"/><path d="M763.2,496.31 764.71,495.52 770.75,495.2 776.79,495.1 782.83,495.32 788.87,496.27 794.91,495.68 800.95,495.35 806.99,496.72 813.03,496.11 819.07,495.57 825.11,495.25 831.15,495.24 837.19,494.6 843.23,494.73 849.27,495.3 855.31,493.97 861.35,494.14 867.39,494.39 873.43,493.8 879.47,495.19 885.51,494.48 891.55,494.84 897.59,494.92 903.63,494.25 909.67,494.73 915.71,494.92 921.75,494.34 927.79,493.51 933.83,492.87 939.87,491.05 945.91,489.2 951.95,487.88 957.99,488.37 964.03,487.18 970.07,485.71 976.11,484.83 982.15,484.23 988.19,482.7 994.23,479.84 1000.27,480.92 1006.31,477.04 1012.35,470.77 1018.39,462.65 1024.43,441.77 1030.47,428.55 1036.51,409.44 1042.55,400.55 1048.59,385.02 1054.63,376.79 1060.67,370.24 1066.71,366.38 1072.75,364.17 1078.79,364.18 1084.83,361.3 1090.87,361.85 1096.91,362.06 1102.95,362.02 1108.99,363.66 1115.03,365.7 1121.07,367.07 1127.11,369.6 1133.15,372.02 1139.19,378.78 1145.23,382 1151.27,396.99 1157.31,405.64 1163.35,419.94 1169.39,437.46 1175.43,450.91 1181.47,459.52 1187.51,466.47 1193.55,474.71 1199.59,479.77 1205.63,482.1 1211.67,483.67 1217.71,484.8 1223.75,487.54 1229.79,488.76 1235.83,489.44 1241.87,491.08 1247.91,491.59 1253.95,493.06 1259.99,494.09 1266.03,493.12 1272.07,494.03 1278.11,493.58 1284.15,492.7 1290.19,491.34 1296.23,492.69 1302.27,492.22 1308.31,492.96 1314.35,493.23"/><path d="M763.2,493.85 764.71,492.56 770.75,493.49 776.79,493.61 782.83,493.7 788.87,493.01 794.91,492.74 800.95,492.58 806.99,492.7 813.03,494.01 819.07,493.21 825.11,494.38 831.15,493.17 837.19,493.25 843.23,493.19 849.27,493.99 855.31,492.92 861.35,493.32 867.39,492.7 873.43,492.96 879.47,492.86 885.51,492.72 891.55,492.04 897.59,492.24 903.63,492.08 909.67,492.76 915.71,491.77 921.75,492.27 927.79,491.06 933.83,490.04 939.87,489.99 945.91,487.65 951.95,487.33 957.99,486.26 964.03,485.44 970.07,485.12 976.11,484.7 982.15,482.54 988.19,484.16 994.23,483.04 1000.27,481.81 1006.31,479.26 1012.35,475.68 1018.39,470.11 1024.43,463.87 1030.47,457.07 1036.51,455.97 1042.55,448.1 1048.59,436.7 1054.63,427.16 1060.67,417.51 1066.71,406.12 1072.75,398.4 1078.79,388.71 1084.83,381.44 1090.87,373.03 1096.91,369.85 1102.95,365.6 1108.99,364.67 1115.03,364.72 1121.07,364.53 1127.11,364.55 1133.15,365.66 1139.19,367.87 1145.23,372.12 1151.27,373.8 1157.31,383.04 1163.35,393.4 1169.39,407.47 1175.43,424.8 1181.47,440.34 1187.51,453.42 1193.55,463.47 1199.59,471.06 1205.63,475.24 1211.67,480.31 1217.71,482.74 1223.75,485.25 1229.79,487.26 1235.83,485.17 1241.87,487.77 1247.91,487.24 1253.95,488.03 1259.99,487.92 1266.03,489.92 1272.07,489.93 1278.11,491.67 1284.15,492.25 1290.19,492.56 1296.23,492.7 1302.27,492.58 1308.31,493.68 1314.35,492.75"/><path d="M763.2,496.81 764.71,497.63 770.75,497.11 776.79,496.8 782.83,496.75 788.87,496.29 794.91,495.8 800.95,496.62 806.99,497.52 813.03,498.17 819.07,497.98 825.11,498.15 831.15,498.31 837.19,497.55 843.23,497.36 849.27,495.92 855.31,495.83 861.35,495.05 867.39,495.51 873.43,497.38 879.47,497.42 885.51,497.86 891.55,497.83 897.59,498.27 903.63,498.1 909.67,496.63 915.71,496.05 921.75,493.9 927.79,492.68 933.83,492.29 939.87,492.18 945.91,491.4 951.95,490.31 957.99,491.06 964.03,490.07 970.07,489.22 976.11,487.65 982.15,487.37 988.19,484.09 994.23,475.5 1000.27,466.53 1006.31,451.15 1012.35,435.84 1018.39,417.92 1024.43,397.47 1030.47,384.61 1036.51,379.06 1042.55,374.1 1048.59,372.17 1054.63,370.26 1060.67,369.74 1066.71,369.12 1072.75,368.75 1078.79,369.89 1084.83,370.07 1090.87,370.87 1096.91,372.59 1102.95,373.45 1108.99,376.71 1115.03,381.03 1121.07,386.53 1127.11,396.7 1133.15,412.67 1139.19,423.52 1145.23,435.19 1151.27,451.89 1157.31,460.23 1163.35,469.14 1169.39,477.28 1175.43,480.27 1181.47,482.45 1187.51,484.41 1193.55,485.79 1199.59,487.24 1205.63,489.24 1211.67,488.61 1217.71,490.34 1223.75,491.4 1229.79,491.14 1235.83,491.4 1241.87,491.88 1247.91,492.13 1253.95,492.02 1259.99,492.84 1266.03,492.42 1272.07,493.63 1278.11,494.54 1284.15,495.3 1290.19,496.54 1296.23,496.65 1302.27,496.57 1308.31,497.58 1314.35,498.23"/></g>
<rect x="1426" y="52" width="47" height="47" fill="#bdcbbc"/>
<rect x="1473" y="52" width="47" height="47" fill="#a1b4be"/>
<rect x="1520" y="52" width="46" height="47" fill="#e6eac3"/>
<rect x="1566" y="52" width="47" height="47" fill="#fffbbf"/>
<rect x="1613" y="52" width="47" height="47" fill="#fff9bc"/>
<rect x="1660" y="52" width="47" height="47" fill="#fdd6a1"/>
<rect x="1707" y="52" width="47" height="47" fill="#f9b887"/>
<rect x="1754" y="52" width="46" height="47" fill="#fedea5"/>
<rect x="1800" y="52" width="47" height="47" fill="#f8ac7c"/>
<rect x="1847" y="52" width="47" height="47" fill="#fcce98"/>
<rect x="1894" y="52" width="47" height="47" fill="#fee7ab"/>
<rect x="1941" y="52" width="47" height="47" fill="#cfdabf"/>
<rect x="1426" y="99" width="47" height="47" fill="#b0c1bd"/>
<rect x="1473" y="99" width="47" height="47" fill="#93a9c0"/>
<rect x="1520" y="99" width="46" height="47" fill="#dde4c1"/>
<rect x="1566" y="99" width="47" height="47" fill="#eceec4"/>
<rect x="1613" y="99" width="47" height="47" fill="#f1f2c3"/>
<rect x="1660" y="99" width="47" height="47" fill="#dfe5c2"/>
<rect x="1707" y="99" width="47" height="47" fill="#fffcc0"/>
<rect x="1754" y="99" width="46" height="47" fill="#f6f6c2"/>
<rect x="1800" y="99" width="47" height="47" fill="#fee0a6"/>
<rect x="1847" y="99" width="47" height="47" fill="#fffabe"/>
<rect x="1894" y="99" width="47" height="47" fill="#fffbbf"/>
<rect x="1941" y="99" width="47" height="47" fill="#c8d5be"/>
<rect x="1426" y="146" width="47" height="46" fill="#7b96bf"/>
<rect x="1473" y="146" width="47" height="46" fill="#7793be"/>
<rect x="1520" y="146" width="46" height="46" fill="#8da5c0"/>
<rect x="1566" y="146" width="47" height="46" fill="#93a9c0"/>
<rect x="1613" y="146" width="47" height="46" fill="#92a8c0"/>
<rect x="1660" y="146" width="47" height="46" fill="#93a9c0"/>
<rect x="1707" y="146" width="47" height="46" fill="#90a7c0"/>
<rect x="1754" y="146" width="46" height="46" fill="#99adbf"/>
<rect x="1800" y="146" width="47" height="46" fill="#90a7c0"/>
<rect x="1847" y="146" width="47" height="46" fill="#93a9c0"/>
<rect x="1894" y="146" width="47" height="46" fill="#93a9c0"/>
<rect x="1941" y="146" width="47" height="46" fill="#839dbf"/>
<rect x="1426" y="192" width="47" height="46" fill="#6a8bbb"/>
<rect x="1473" y="192" width="47" height="46" fill="#6688ba"/>
<rect x="1520" y="192" width="46" height="46" fill="#7391bd"/>
<rect x="1566" y="192" width="47" height="46" fill="#7b96bf"/>
<rect x="1613" y="192" width="47" height="46" fill="#7793be"/>
<rect x="1660" y="192" width="47" height="46" fill="#7793be"/>
<rect x="1707" y="192" width="47" height="46" fill="#7391bd"/>
<rect x="1754" y="192" width="46" height="46" fill="#819abf"/>
<rect x="1800" y="192" width="47" height="46" fill="#6e8ebc"/>
<rect x="1847" y="192" width="47" height="46" fill="#7995bf"/>
<rect x="1894" y="192" width="47" height="46" fill="#7793be"/>
<rect x="1941" y="192" width="47" height="46" fill="#7391bd"/>
<text x="1430.1 1440.3 1450.5" y="78.2" class="cv">6.7</text>
<text x="1479.5 1489.7 1499.9" y="78.2" class="cv">4.8</text>
<text x="1528.4 1538.6 1548.8" y="78.2" class="cv">9.8</text>
<text x="1566.1 1576.3 1586.5 1596.7" y="78.2" class="cv">11.8</text>
<text x="1613.4 1623.6 1633.8 1644" y="78.2" class="cv">12.0</text>
<text x="1660.1 1670.3 1680.5 1690.7" y="78.2" class="cv">15.0</text>
<text x="1706.5 1716.7 1726.9 1737.1" y="78.2" class="cv">17.1</text>
<text x="1753.8 1764 1774.2 1784.4" y="78.2" class="cv">14.2</text>
<text x="1800.3 1810.5 1820.7 1830.9" y="78.2" class="cv">18.1</text>
<text x="1847.8 1858 1868.2 1878.4" y="78.2" class="cv">15.7</text>
<text x="1894.9 1905.1 1915.3 1925.5" y="78.2" class="cv">13.4</text>
<text x="1946 1956.2 1966.4" y="78.2" class="cv">8.1</text>
<text x="1435.7 1445.9 1456.1" y="129.9" class="cv">5.8</text>
<text x="1485.5 1495.7 1505.9" y="129.9" class="cv">3.8</text>
<text x="1529.5 1539.7 1549.9" y="129.9" class="cv">9.1</text>
<text x="1569.8 1580 1590.2 1600.4" y="129.9" class="cv">10.2</text>
<text x="1617.7 1627.9 1638.1 1648.3" y="129.9" class="cv">10.5</text>
<text x="1669 1679.2 1689.4" y="129.9" class="cv">9.3</text>
<text x="1707.6 1717.8 1728 1738.2" y="129.9" class="cv">11.3</text>
<text x="1755.5 1765.7 1775.9 1786.1" y="129.9" class="cv">10.8</text>
<text x="1802.9 1813.1 1823.3 1833.5" y="129.9" class="cv">14.0</text>
<text x="1850.1 1860.3 1870.5 1880.7" y="129.9" class="cv">11.9</text>
<text x="1897.7 1907.9 1918.1 1928.3" y="129.9" class="cv">11.8</text>
<text x="1946.5 1956.7 1966.9" y="129.9" class="cv">7.6</text>
<text x="1438.3 1448.5 1458.7" y="182.3" class="cv">2.1</text>
<text x="1486.3 1496.5 1506.7" y="182.3" class="cv">1.9</text>
<text x="1532.1 1542.3 1552.5" y="182.3" class="cv">3.4</text>
<text x="1578.3 1588.5 1598.7" y="182.3" class="cv">3.8</text>
<text x="1624.8 1635 1645.2" y="182.3" class="cv">3.7</text>
<text x="1670.9 1681.1 1691.3" y="182.3" class="cv">3.8</text>
<text x="1716.9 1727.1 1737.3" y="182.3" class="cv">3.6</text>
<text x="1763 1773.2 1783.4" y="182.3" class="cv">4.2</text>
<text x="1809.2 1819.4 1829.6" y="182.3" class="cv">3.6</text>
<text x="1855.3 1865.5 1875.7" y="182.3" class="cv">3.8</text>
<text x="1901.5 1911.7 1921.9" y="182.3" class="cv">3.8</text>
<text x="1947.7 1957.9 1968.1" y="182.3" class="cv">2.7</text>
<text x="1435.2 1445.4 1455.6" y="225.5" class="cv">1.3</text>
<text x="1485.5 1495.7 1505.9" y="225.5" class="cv">1.1</text>
<text x="1532.9 1543.1 1553.3" y="225.5" class="cv">1.7</text>
<text x="1579.1 1589.3 1599.5" y="225.5" class="cv">2.1</text>
<text x="1627.2 1637.4 1647.6" y="225.5" class="cv">1.9</text>
<text x="1673.9 1684.1 1694.3" y="225.5" class="cv">1.9</text>
<text x="1720.7 1730.9 1741.1" y="225.5" class="cv">1.7</text>
<text x="1763 1773.2 1783.4" y="225.5" class="cv">2.5</text>
<text x="1810.3 1820.5 1830.7" y="225.5" class="cv">1.5</text>
<text x="1856.7 1866.9 1877.1" y="225.5" class="cv">2.0</text>
<text x="1903.5 1913.7 1923.9" y="225.5" class="cv">1.9</text>
<text x="1950.8 1961 1971.2" y="225.5" class="cv">1.7</text>
<rect x="1391" y="287" width="82.6" height="16.2" fill="url(#cb)"/>
<line x1="1728.9" y1="303.2" x2="1770.2" y2="303.2" stroke="#a6a6a6" stroke-width="1.3"/>
<path d="M1436.4 339.3V534.5H1988.8" fill="none" stroke="#868686" stroke-width="1.4"/>
<path d="M1481.72 534.5v-7M1527.04 534.5v-7M1572.35 534.5v-7M1617.67 534.5v-7M1662.99 534.5v-7M1708.31 534.5v-7M1753.63 534.5v-7M1798.94 534.5v-7M1844.26 534.5v-7M1889.58 534.5v-7M1934.9 534.5v-7M1980.22 534.5v-7" stroke="#868686" stroke-width="1.3"/>
<g fill="none" stroke="#726e6e" stroke-width="1" stroke-linejoin="round"><path d="M1436.4,496.01 1437.91,495.33 1443.95,494.89 1450,494.06 1456.04,494.93 1462.08,492.87 1468.12,492.66 1474.17,493.75 1480.21,493.19 1486.25,493.68 1492.29,495.31 1498.33,494.51 1504.38,494.28 1510.42,495.38 1516.46,495.21 1522.5,495.82 1528.55,495.75 1534.59,494.74 1540.63,494.55 1546.67,494.8 1552.72,494.24 1558.76,493.3 1564.8,493.99 1570.84,492.64 1576.89,492.46 1582.93,492.99 1588.97,491.71 1595.01,491.51 1601.06,491.18 1607.1,489.44 1613.14,487.99 1619.18,486.47 1625.23,486.93 1631.27,483.4 1637.31,480.82 1643.35,477.46 1649.39,471.1 1655.44,463.01 1661.48,454.37 1667.52,440.86 1673.56,426.16 1679.61,410.83 1685.65,403.44 1691.69,389.51 1697.73,383.66 1703.78,378.06 1709.82,375.48 1715.86,372.71 1721.9,370.44 1727.95,371.26 1733.99,370.59 1740.03,371.41 1746.07,370.41 1752.12,371.98 1758.16,371.23 1764.2,372.91 1770.24,373.82 1776.29,376.04 1782.33,376.95 1788.37,379.41 1794.41,382.1 1800.45,388.71 1806.5,394.69 1812.54,402.97 1818.58,411.2 1824.62,427.43 1830.67,435.94 1836.71,452.98 1842.75,462.38 1848.79,468.66 1854.84,476.03 1860.88,479.43 1866.92,482.71 1872.96,484.62 1879.01,485.28 1885.05,486.84 1891.09,487.6 1897.13,486.87 1903.18,487.48 1909.22,487.76 1915.26,487.57 1921.3,487.61 1927.35,488.22 1933.39,488.69 1939.43,489.34 1945.47,491.3 1951.51,491.87 1957.56,493.53 1963.6,493.39 1969.64,495.53 1975.68,495.52 1981.73,494.5 1987.77,495.65"/><path d="M1436.4,492.26 1437.91,493.54 1443.95,493.08 1450,491.75 1456.04,493.03 1462.08,493.87 1468.12,492.91 1474.17,494.06 1480.21,493.42 1486.25,494.11 1492.29,494.22 1498.33,493.29 1504.38,494.33 1510.42,493.53 1516.46,494.3 1522.5,493.63 1528.55,493.55 1534.59,493.42 1540.63,493.86 1546.67,492.8 1552.72,493.45 1558.76,493.52 1564.8,492.05 1570.84,492.9 1576.89,492.08 1582.93,491.83 1588.97,491.58 1595.01,491.97 1601.06,489.04 1607.1,489.82 1613.14,488.86 1619.18,487.22 1625.23,486.14 1631.27,484.29 1637.31,482.13 1643.35,480.17 1649.39,475.8 1655.44,470.68 1661.48,464.39 1667.52,456.34 1673.56,446.88 1679.61,435.67 1685.65,415.5 1691.69,401.82 1697.73,395.49 1703.78,385.93 1709.82,380.8 1715.86,376.12 1721.9,372.08 1727.95,369.42 1733.99,368.11 1740.03,367.11 1746.07,366.48 1752.12,365.45 1758.16,364.73 1764.2,366.73 1770.24,368.63 1776.29,368.42 1782.33,369.81 1788.37,369.19 1794.41,370.43 1800.45,372.55 1806.5,375.46 1812.54,379.19 1818.58,385.7 1824.62,398.21 1830.67,406.73 1836.71,418.56 1842.75,429.67 1848.79,448.53 1854.84,456.41 1860.88,465.49 1866.92,472.04 1872.96,479.13 1879.01,480.59 1885.05,483.58 1891.09,484.35 1897.13,485.8 1903.18,485.81 1909.22,485.89 1915.26,486.85 1921.3,485.5 1927.35,486.53 1933.39,488.34 1939.43,490.79 1945.47,490.89 1951.51,492.79 1957.56,492.43 1963.6,491.82 1969.64,492.65 1975.68,493.02 1981.73,493.72 1987.77,493.64"/><path d="M1436.4,491.82 1437.91,492.06 1443.95,491.83 1450,491.85 1456.04,492.12 1462.08,491.93 1468.12,492.66 1474.17,492.02 1480.21,493.57 1486.25,492.99 1492.29,493.09 1498.33,493.24 1504.38,493.52 1510.42,494.28 1516.46,493.88 1522.5,493.44 1528.55,493.18 1534.59,493.11 1540.63,492.62 1546.67,491.94 1552.72,491.87 1558.76,491.46 1564.8,490.28 1570.84,489.91 1576.89,489.21 1582.93,490.67 1588.97,490.03 1595.01,489.91 1601.06,488.23 1607.1,489.84 1613.14,489.32 1619.18,486.92 1625.23,487.69 1631.27,484.98 1637.31,483.35 1643.35,482.9 1649.39,479.22 1655.44,477.24 1661.48,469.5 1667.52,465.58 1673.56,455.81 1679.61,445.09 1685.65,431.38 1691.69,420.74 1697.73,406.52 1703.78,398.83 1709.82,390.03 1715.86,384.91 1721.9,383.51 1727.95,381.9 1733.99,380.26 1740.03,379.88 1746.07,380.12 1752.12,380.29 1758.16,381.99 1764.2,383.71 1770.24,386.38 1776.29,387.76 1782.33,390.97 1788.37,394.86 1794.41,402.31 1800.45,415.23 1806.5,418.68 1812.54,427.17 1818.58,439.31 1824.62,448.41 1830.67,458.43 1836.71,464.59 1842.75,470.12 1848.79,474.87 1854.84,477.54 1860.88,479.64 1866.92,482.31 1872.96,483.92 1879.01,484.77 1885.05,483.6 1891.09,485.29 1897.13,485.07 1903.18,485.05 1909.22,484.94 1915.26,485.35 1921.3,485.84 1927.35,486.75 1933.39,487.02 1939.43,487.91 1945.47,488.58 1951.51,489.99 1957.56,490.08 1963.6,492.01 1969.64,491.85 1975.68,492.1 1981.73,492.19 1987.77,492.66"/><path d="M1436.4,497.21 1437.91,497.14 1443.95,496.01 1450,495.95 1456.04,495.47 1462.08,496.16 1468.12,494.32 1474.17,494.68 1480.21,494.47 1486.25,494.29 1492.29,495.52 1498.33,495.04 1504.38,495.41 1510.42,496.64 1516.46,497.54 1522.5,496.47 1528.55,497.73 1534.59,496.57 1540.63,495.29 1546.67,494.94 1552.72,494.16 1558.76,494.72 1564.8,493.8 1570.84,492.47 1576.89,494.66 1582.93,493.29 1588.97,493.69 1595.01,493.38 1601.06,492.9 1607.1,493.6 1613.14,491.38 1619.18,490.23 1625.23,489.14 1631.27,487.92 1637.31,486.65 1643.35,485.3 1649.39,483.99 1655.44,482.83 1661.48,476.91 1667.52,472.61 1673.56,462.32 1679.61,454.95 1685.65,438.5 1691.69,421.27 1697.73,410.93 1703.78,392.41 1709.82,382.3 1715.86,375.96 1721.9,369.86 1727.95,365.93 1733.99,364.59 1740.03,364.17 1746.07,362.68 1752.12,363.18 1758.16,362.42 1764.2,362.15 1770.24,362.05 1776.29,361 1782.33,362.14 1788.37,362.29 1794.41,360.71 1800.45,361.51 1806.5,360.93 1812.54,363.14 1818.58,364.29 1824.62,368.51 1830.67,373.7 1836.71,380.54 1842.75,394.39 1848.79,413.86 1854.84,424.43 1860.88,436.15 1866.92,457.11 1872.96,465.05 1879.01,472.02 1885.05,479.72 1891.09,481.53 1897.13,484.75 1903.18,485.47 1909.22,488.46 1915.26,489.38 1921.3,489.59 1927.35,491.57 1933.39,491.7 1939.43,491.44 1945.47,494.17 1951.51,492.28 1957.56,494.68 1963.6,493.58 1969.64,493.13 1975.68,494.84 1981.73,493.83 1987.77,494.67"/><path d="M1436.4,492.69 1437.91,493.06 1443.95,492.03 1450,491.54 1456.04,493.09 1462.08,494.08 1468.12,493.92 1474.17,495.36 1480.21,495.08 1486.25,493.23 1492.29,494.28 1498.33,493.44 1504.38,493.52 1510.42,493.96 1516.46,494.18 1522.5,492.75 1528.55,492.51 1534.59,491.63 1540.63,491.52 1546.67,492.79 1552.72,493.01 1558.76,494.2 1564.8,493.44 1570.84,494.49 1576.89,493.08 1582.93,491.77 1588.97,491.82 1595.01,491.05 1601.06,490.35 1607.1,489.07 1613.14,489.62 1619.18,487.82 1625.23,486.77 1631.27,485.56 1637.31,483.87 1643.35,483.58 1649.39,483.61 1655.44,481.57 1661.48,478 1667.52,475.02 1673.56,469.58 1679.61,460.11 1685.65,448.87 1691.69,433.41 1697.73,420.89 1703.78,410.61 1709.82,394.66 1715.86,385.13 1721.9,378.54 1727.95,375.9 1733.99,373.39 1740.03,373.27 1746.07,370.88 1752.12,371.54 1758.16,369.82 1764.2,369.69 1770.24,367.57 1776.29,367.64 1782.33,368.87 1788.37,370.31 1794.41,371.66 1800.45,374.1 1806.5,379.02 1812.54,384.24 1818.58,389.38 1824.62,401.52 1830.67,410.57 1836.71,429.88 1842.75,442.53 1848.79,455.21 1854.84,460.53 1860.88,468.43 1866.92,472.93 1872.96,478.76 1879.01,481.01 1885.05,483.22 1891.09,482.61 1897.13,484.72 1903.18,484.34 1909.22,485.73 1915.26,487.34 1921.3,488.8 1927.35,488.8 1933.39,490.96 1939.43,490.83 1945.47,491.61 1951.51,490.49 1957.56,491.1 1963.6,490.48 1969.64,491.29 1975.68,492.88 1981.73,492.83 1987.77,492.03"/><path d="M1436.4,495.29 1437.91,494.84 1443.95,495.98 1450,494.67 1456.04,494.75 1462.08,495.2 1468.12,494.95 1474.17,495.43 1480.21,495.69 1486.25,495.6 1492.29,494.38 1498.33,493.27 1504.38,494.29 1510.42,493.16 1516.46,492.6 1522.5,492.18 1528.55,493.27 1534.59,493.08 1540.63,494.23 1546.67,493.71 1552.72,495.17 1558.76,494.79 1564.8,495.07 1570.84,495.81 1576.89,494.92 1582.93,494.76 1588.97,493.34 1595.01,492.26 1601.06,491.05 1607.1,489.42 1613.14,488.18 1619.18,486.54 1625.23,487.58 1631.27,485.83 1637.31,485.16 1643.35,485.3 1649.39,485.77 1655.44,485.87 1661.48,484.65 1667.52,485.01 1673.56,483.72 1679.61,481.03 1685.65,472.54 1691.69,462.45 1697.73,437.73 1703.78,420.24 1709.82,392.84 1715.86,377.62 1721.9,368.91 1727.95,364.66 1733.99,363.37 1740.03,363.3 1746.07,363.54 1752.12,363.33 1758.16,363 1764.2,365.28 1770.24,366.45 1776.29,366.86 1782.33,368.31 1788.37,369.01 1794.41,371.59 1800.45,374.93 1806.5,380 1812.54,387.08 1818.58,396.02 1824.62,410.95 1830.67,426.19 1836.71,433.12 1842.75,455.67 1848.79,463.94 1854.84,471.87 1860.88,476.07 1866.92,478.91 1872.96,482.31 1879.01,483.85 1885.05,485.78 1891.09,487.35 1897.13,487.57 1903.18,488.29 1909.22,488.24 1915.26,489.25 1921.3,489.44 1927.35,490.71 1933.39,490.83 1939.43,490.81 1945.47,491.28 1951.51,492.65 1957.56,492.14 1963.6,492.49 1969.64,492.42 1975.68,493.37 1981.73,492.43 1987.77,492.91"/><path d="M1436.4,491.69 1437.91,492.78 1443.95,491.72 1450,492.16 1456.04,491.89 1462.08,491.81 1468.12,492.14 1474.17,493.34 1480.21,492.3 1486.25,493.25 1492.29,491.5 1498.33,491.81 1504.38,492.05 1510.42,490.74 1516.46,492.12 1522.5,491.49 1528.55,492.55 1534.59,492.53 1540.63,492.95 1546.67,493.16 1552.72,493.18 1558.76,492.77 1564.8,494.29 1570.84,492.79 1576.89,492.59 1582.93,490.9 1588.97,489.44 1595.01,484.47 1601.06,478.05 1607.1,468.53 1613.14,464.63 1619.18,464.74 1625.23,464.6 1631.27,465.34 1637.31,465.89 1643.35,465.94 1649.39,467.31 1655.44,472.99 1661.48,475.37 1667.52,476.18 1673.56,471.24 1679.61,469.27 1685.65,459.76 1691.69,451 1697.73,437.3 1703.78,426.85 1709.82,416.25 1715.86,400.61 1721.9,392.94 1727.95,384.73 1733.99,379.8 1740.03,376.59 1746.07,372.54 1752.12,370.43 1758.16,369.16 1764.2,366.74 1770.24,365.33 1776.29,363.93 1782.33,362.05 1788.37,361.59 1794.41,361.6 1800.45,362.22 1806.5,362.92 1812.54,365.45 1818.58,368.92 1824.62,373.26 1830.67,379.32 1836.71,388.12 1842.75,404.04 1848.79,421.16 1854.84,438.8 1860.88,449.06 1866.92,462.89 1872.96,467.06 1879.01,474.3 1885.05,478.8 1891.09,481.04 1897.13,483.72 1903.18,484.95 1909.22,486.79 1915.26,487.84 1921.3,487.24 1927.35,487.01 1933.39,488.26 1939.43,488.06 1945.47,488.84 1951.51,488.87 1957.56,488.89 1963.6,489.07 1969.64,491.17 1975.68,491.08 1981.73,491.85 1987.77,492.2"/><path d="M1436.4,496.64 1437.91,497.17 1443.95,497.21 1450,496.73 1456.04,495.28 1462.08,493.87 1468.12,493.37 1474.17,494.27 1480.21,495.45 1486.25,496.31 1492.29,497.19 1498.33,497.22 1504.38,495.72 1510.42,494.55 1516.46,494.38 1522.5,492.9 1528.55,494.72 1534.59,496.13 1540.63,496.73 1546.67,496.68 1552.72,496.28 1558.76,495.19 1564.8,493.99 1570.84,494.57 1576.89,494.53 1582.93,494.4 1588.97,493.08 1595.01,493.4 1601.06,491.72 1607.1,491.26 1613.14,492.04 1619.18,490.85 1625.23,488.26 1631.27,488.57 1637.31,486.55 1643.35,485.51 1649.39,484.25 1655.44,484.52 1661.48,485.21 1667.52,483.31 1673.56,481.15 1679.61,476.29 1685.65,470.43 1691.69,461.93 1697.73,449.86 1703.78,438.73 1709.82,430.61 1715.86,419.55 1721.9,408.89 1727.95,397.47 1733.99,389.61 1740.03,380.62 1746.07,377.95 1752.12,375.14 1758.16,372.05 1764.2,371.68 1770.24,370.91 1776.29,369.05 1782.33,367.47 1788.37,369.86 1794.41,367.73 1800.45,366.7 1806.5,366.68 1812.54,367.6 1818.58,368.23 1824.62,371.12 1830.67,373.46 1836.71,378.87 1842.75,389.55 1848.79,401.93 1854.84,412.17 1860.88,424.22 1866.92,434.3 1872.96,448.71 1879.01,460.13 1885.05,467.21 1891.09,475.89 1897.13,480.87 1903.18,484.58 1909.22,486.09 1915.26,485.97 1921.3,487.69 1927.35,488.22 1933.39,490.21 1939.43,493.01 1945.47,493.13 1951.51,493.69 1957.56,494.29 1963.6,493.79 1969.64,492.31 1975.68,492.84 1981.73,494.09 1987.77,495.28"/><path d="M1436.4,492.81 1437.91,492.83 1443.95,491.17 1450,491.19 1456.04,491.29 1462.08,491.89 1468.12,491.67 1474.17,492.9 1480.21,493.54 1486.25,494.82 1492.29,494.6 1498.33,495.55 1504.38,496.18 1510.42,496.45 1516.46,494.7 1522.5,495.25 1528.55,494.08 1534.59,493.02 1540.63,492.26 1546.67,491.39 1552.72,492.67 1558.76,490.9 1564.8,490.92 1570.84,491.91 1576.89,490.76 1582.93,489.95 1588.97,491.97 1595.01,490.31 1601.06,490.21 1607.1,490.48 1613.14,490.19 1619.18,490.38 1625.23,487.58 1631.27,487.06 1637.31,487.18 1643.35,485.82 1649.39,484.26 1655.44,483.39 1661.48,479.7 1667.52,478.99 1673.56,476.86 1679.61,475.08 1685.65,472.83 1691.69,466.63 1697.73,461.9 1703.78,448.47 1709.82,440.57 1715.86,430.92 1721.9,419.36 1727.95,409.33 1733.99,402.49 1740.03,393.89 1746.07,389.9 1752.12,385.49 1758.16,383.2 1764.2,380.98 1770.24,380.57 1776.29,379.37 1782.33,381.28 1788.37,383.33 1794.41,387.09 1800.45,390.77 1806.5,401.55 1812.54,406.07 1818.58,422.86 1824.62,430.49 1830.67,443.48 1836.71,453.57 1842.75,463.71 1848.79,468.32 1854.84,474.1 1860.88,478.49 1866.92,481.06 1872.96,482.05 1879.01,483.4 1885.05,482.6 1891.09,484.02 1897.13,485.3 1903.18,485.17 1909.22,486.71 1915.26,486.09 1921.3,488.4 1927.35,488.54 1933.39,489.87 1939.43,490.59 1945.47,491.89 1951.51,491.34 1957.56,492.38 1963.6,492.44 1969.64,493.27 1975.68,492.48 1981.73,491.94 1987.77,491.62"/><path d="M1436.4,494.04 1437.91,493.56 1443.95,492.66 1450,493.08 1456.04,492.78 1462.08,493.59 1468.12,494.77 1474.17,493.27 1480.21,494.77 1486.25,494.86 1492.29,493.94 1498.33,492.67 1504.38,493.27 1510.42,492.27 1516.46,493.49 1522.5,493.44 1528.55,493.72 1534.59,494.62 1540.63,492.61 1546.67,493.02 1552.72,491.92 1558.76,492.7 1564.8,492.26 1570.84,492.95 1576.89,492.58 1582.93,492.48 1588.97,490.94 1595.01,490.69 1601.06,490.05 1607.1,488.74 1613.14,488.75 1619.18,488.27 1625.23,487.74 1631.27,486.06 1637.31,487.09 1643.35,485.07 1649.39,483.79 1655.44,483.17 1661.48,483.69 1667.52,483.32 1673.56,481.02 1679.61,480.25 1685.65,479.34 1691.69,476.56 1697.73,468.05 1703.78,458.74 1709.82,451.71 1715.86,438.91 1721.9,428.52 1727.95,408.8 1733.99,393.55 1740.03,389.43 1746.07,377.66 1752.12,374.2 1758.16,370.09 1764.2,367.96 1770.24,366.37 1776.29,366.99 1782.33,366.09 1788.37,364.99 1794.41,364.82 1800.45,365.31 1806.5,365.57 1812.54,368.96 1818.58,380.48 1824.62,387.12 1830.67,391.55 1836.71,395.31 1842.75,401.02 1848.79,411.17 1854.84,426.8 1860.88,438.9 1866.92,452.61 1872.96,456.85 1879.01,460.51 1885.05,467.3 1891.09,471.3 1897.13,474.61 1903.18,477.51 1909.22,479.94 1915.26,482.64 1921.3,485.15 1927.35,485.8 1933.39,487.18 1939.43,488.15 1945.47,490.12 1951.51,490.29 1957.56,490.78 1963.6,491.62 1969.64,492.18 1975.68,493.08 1981.73,493.43 1987.77,492.67"/><path d="M1436.4,495.71 1437.91,494.52 1443.95,494.32 1450,494.57 1456.04,493.34 1462.08,494.16 1468.12,494.01 1474.17,493.22 1480.21,493.38 1486.25,494.06 1492.29,493.97 1498.33,494.91 1504.38,495.33 1510.42,494.8 1516.46,495.32 1522.5,495.19 1528.55,495.15 1534.59,495.01 1540.63,497.01 1546.67,494.02 1552.72,494.39 1558.76,493.85 1564.8,494.03 1570.84,492.58 1576.89,492.46 1582.93,491.87 1588.97,490.74 1595.01,490.5 1601.06,490.91 1607.1,490.78 1613.14,489.18 1619.18,488.45 1625.23,488.97 1631.27,489 1637.31,487.66 1643.35,487.2 1649.39,486.86 1655.44,487.09 1661.48,484.57 1667.52,484.91 1673.56,483.01 1679.61,480.56 1685.65,477.75 1691.69,474.67 1697.73,471.08 1703.78,465.92 1709.82,457.28 1715.86,450.61 1721.9,439.1 1727.95,421.35 1733.99,414.23 1740.03,401.45 1746.07,393.09 1752.12,387.44 1758.16,382.46 1764.2,379.33 1770.24,377.49 1776.29,376.61 1782.33,374.25 1788.37,374.8 1794.41,376.99 1800.45,377.3 1806.5,382.8 1812.54,386.65 1818.58,397.02 1824.62,409.28 1830.67,421.76 1836.71,432.67 1842.75,444.56 1848.79,457.22 1854.84,468.37 1860.88,473.31 1866.92,477.87 1872.96,480.36 1879.01,483.65 1885.05,484.58 1891.09,486.67 1897.13,486.35 1903.18,487.43 1909.22,488.16 1915.26,487.5 1921.3,487.92 1927.35,488.66 1933.39,490.24 1939.43,491.21 1945.47,489.77 1951.51,491.62 1957.56,492.25 1963.6,492.18 1969.64,493.07 1975.68,494.45 1981.73,494.37 1987.77,494.91"/><path d="M1436.4,485.65 1437.91,486.67 1443.95,486.62 1450,485.68 1456.04,485.44 1462.08,486.84 1468.12,485.32 1474.17,485.93 1480.21,485.06 1486.25,485.67 1492.29,487.08 1498.33,487.45 1504.38,487.93 1510.42,488.63 1516.46,488.58 1522.5,488.61 1528.55,487.68 1534.59,487.89 1540.63,486.22 1546.67,485.82 1552.72,486.62 1558.76,485.4 1564.8,484.72 1570.84,483.86 1576.89,483.92 1582.93,485.56 1588.97,485.77 1595.01,485.67 1601.06,486.85 1607.1,486.61 1613.14,487.08 1619.18,486.31 1625.23,484.66 1631.27,485.38 1637.31,484.31 1643.35,483.13 1649.39,480.65 1655.44,479.2 1661.48,476.35 1667.52,473.41 1673.56,465.67 1679.61,455.76 1685.65,446.59 1691.69,428.12 1697.73,417.47 1703.78,400.22 1709.82,388.85 1715.86,382.77 1721.9,377.64 1727.95,373.03 1733.99,371.85 1740.03,370.56 1746.07,368.67 1752.12,367.18 1758.16,366.35 1764.2,366.68 1770.24,364.39 1776.29,365.1 1782.33,365.49 1788.37,366.5 1794.41,366.1 1800.45,366.41 1806.5,368.74 1812.54,370.56 1818.58,372.84 1824.62,384.2 1830.67,390.58 1836.71,405.8 1842.75,419.63 1848.79,428.6 1854.84,447.61 1860.88,458.46 1866.92,463.81 1872.96,472.34 1879.01,476.53 1885.05,479.57 1891.09,481.66 1897.13,481.7 1903.18,481.88 1909.22,482.04 1915.26,481.41 1921.3,482.9 1927.35,480.57 1933.39,481.21 1939.43,481.62 1945.47,481.97 1951.51,483.07 1957.56,482.16 1963.6,483.34 1969.64,483.36 1975.68,484.71 1981.73,485.06 1987.77,484.57"/></g>
<text x="294.55" y="31.3" style="font-family:'Liberation Serif', 'Times New Roman', serif;font-size:29.39px;font-weight:bold" fill="#000" textLength="123.99" lengthAdjust="spacingAndGlyphs">(a) CSP#1</text>
<text x="25.21" y="77.7" style="font-family:'Liberation Serif', 'Times New Roman', serif;font-size:18.79px;font-weight:bold" fill="#000" textLength="40.24" lengthAdjust="spacingAndGlyphs">DM8</text>
<text x="20.62" y="129" style="font-family:'Liberation Serif', 'Times New Roman', serif;font-size:18.79px;font-weight:bold" fill="#000" textLength="48.24" lengthAdjust="spacingAndGlyphs">DM16</text>
<text x="20.58" y="180.7" style="font-family:'Liberation Serif', 'Times New Roman', serif;font-size:18.79px;font-weight:bold" fill="#000" textLength="47.06" lengthAdjust="spacingAndGlyphs">SG8A</text>
<text x="15.57" y="232.1" style="font-family:'Liberation Serif', 'Times New Roman', serif;font-size:18.79px;font-weight:bold" fill="#000" textLength="56.97" lengthAdjust="spacingAndGlyphs">SG16A</text>
<text x="95.23" y="255" style="font-family:'Liberation Serif', 'Times New Roman', serif;font-size:17.58px;font-weight:normal" fill="#000" textLength="8.79" lengthAdjust="spacingAndGlyphs">1</text>
<text x="141.39" y="255" style="font-family:'Liberation Serif', 'Times New Roman', serif;font-size:17.58px;font-weight:normal" fill="#000" textLength="8.79" lengthAdjust="spacingAndGlyphs">2</text>
<text x="187.42" y="255" style="font-family:'Liberation Serif', 'Times New Roman', serif;font-size:17.58px;font-weight:normal" fill="#000" textLength="8.79" lengthAdjust="spacingAndGlyphs">3</text>
<text x="234.21" y="255" style="font-family:'Liberation Serif', 'Times New Roman', serif;font-size:17.58px;font-weight:normal" fill="#000" textLength="8.79" lengthAdjust="spacingAndGlyphs">4</text>
<text x="279.73" y="255" style="font-family:'Liberation Serif', 'Times New Roman', serif;font-size:17.58px;font-weight:normal" fill="#000" textLength="8.79" lengthAdjust="spacingAndGlyphs">5</text>
<text x="326.33" y="255" style="font-family:'Liberation Serif', 'Times New Roman', serif;font-size:17.58px;font-weight:normal" fill="#000" textLength="8.79" lengthAdjust="spacingAndGlyphs">6</text>
<text x="372.45" y="255" style="font-family:'Liberation Serif', 'Times New Roman', serif;font-size:17.58px;font-weight:normal" fill="#000" textLength="8.79" lengthAdjust="spacingAndGlyphs">7</text>
<text x="423.51" y="255" style="font-family:'Liberation Serif', 'Times New Roman', serif;font-size:17.58px;font-weight:normal" fill="#000" textLength="8.79" lengthAdjust="spacingAndGlyphs">8</text>
<text x="469.89" y="255" style="font-family:'Liberation Serif', 'Times New Roman', serif;font-size:17.58px;font-weight:normal" fill="#000" textLength="8.79" lengthAdjust="spacingAndGlyphs">9</text>
<text x="511.97" y="255" style="font-family:'Liberation Serif', 'Times New Roman', serif;font-size:17.58px;font-weight:normal" fill="#000" textLength="17.58" lengthAdjust="spacingAndGlyphs">10</text>
<text x="562.46" y="255" style="font-family:'Liberation Serif', 'Times New Roman', serif;font-size:17.58px;font-weight:normal" fill="#000" textLength="16.92" lengthAdjust="spacingAndGlyphs">11</text>
<text x="613.25" y="255" style="font-family:'Liberation Serif', 'Times New Roman', serif;font-size:17.58px;font-weight:normal" fill="#000" textLength="17.58" lengthAdjust="spacingAndGlyphs">12</text>
<text x="329.92" y="279.3" style="font-family:'Liberation Serif', 'Times New Roman', serif;font-size:17.38px;font-weight:bold" fill="#000" textLength="51.39" lengthAdjust="spacingAndGlyphs">Month</text>
<text x="31.15" y="323.5" style="font-family:'Liberation Serif', 'Times New Roman', serif;font-size:20.45px;font-weight:normal" fill="#000" textLength="21.29" lengthAdjust="spacingAndGlyphs">30</text>
<text x="74.42" y="323.5" style="font-family:'Liberation Serif', 'Times New Roman', serif;font-size:20.45px;font-weight:normal" fill="#000" textLength="19.78" lengthAdjust="spacingAndGlyphs">15</text>
<text x="115.89" y="323.5" style="font-family:'Liberation Serif', 'Times New Roman', serif;font-size:20.45px;font-weight:normal" fill="#000" textLength="10.11" lengthAdjust="spacingAndGlyphs">0</text>
<text x="179.3" y="293" style="font-family:'Liberation Serif', 'Times New Roman', serif;font-size:19.85px;font-weight:normal" fill="#111" textLength="127.06" lengthAdjust="spacingAndGlyphs">Averaged clear</text>
<text x="143.27" y="318.1" style="font-family:'Liberation Serif', 'Times New Roman', serif;font-size:20.3px;font-weight:normal" fill="#111" textLength="197.84" lengthAdjust="spacingAndGlyphs">observations per month</text>
<text x="434.78" y="293.2" style="font-family:'Liberation Serif', 'Times New Roman', serif;font-size:22px;font-weight:normal" fill="#111" textLength="194.79" lengthAdjust="spacingAndGlyphs">NDVI time series from</text>
<text x="476.35" y="318.4" style="font-family:'Liberation Serif', 'Times New Roman', serif;font-size:20.61px;font-weight:normal" fill="#111" textLength="112.11" lengthAdjust="spacingAndGlyphs">2001 to 2012</text>
<text x="56.57" y="538.8" style="font-family:'DejaVu Sans', 'Liberation Sans', sans-serif;font-size:16.53px;font-weight:normal" fill="#1a1a1a" stroke="#1a1a1a" stroke-width="0.35" textLength="12.2" lengthAdjust="spacingAndGlyphs">0</text>
<text x="38.85" y="500.26" style="font-family:'DejaVu Sans', 'Liberation Sans', sans-serif;font-size:16.53px;font-weight:normal" fill="#1a1a1a" stroke="#1a1a1a" stroke-width="0.35" textLength="30.5" lengthAdjust="spacingAndGlyphs">0.2</text>
<text x="37.89" y="461.72" style="font-family:'DejaVu Sans', 'Liberation Sans', sans-serif;font-size:16.53px;font-weight:normal" fill="#1a1a1a" stroke="#1a1a1a" stroke-width="0.35" textLength="30.5" lengthAdjust="spacingAndGlyphs">0.4</text>
<text x="38.08" y="423.18" style="font-family:'DejaVu Sans', 'Liberation Sans', sans-serif;font-size:16.53px;font-weight:normal" fill="#1a1a1a" stroke="#1a1a1a" stroke-width="0.35" textLength="30.5" lengthAdjust="spacingAndGlyphs">0.6</text>
<text x="38.27" y="384.64" style="font-family:'DejaVu Sans', 'Liberation Sans', sans-serif;font-size:16.53px;font-weight:normal" fill="#1a1a1a" stroke="#1a1a1a" stroke-width="0.35" textLength="30.5" lengthAdjust="spacingAndGlyphs">0.8</text>
<text x="56.95" y="346.1" style="font-family:'DejaVu Sans', 'Liberation Sans', sans-serif;font-size:16.53px;font-weight:normal" fill="#1a1a1a" stroke="#1a1a1a" stroke-width="0.35" textLength="12.2" lengthAdjust="spacingAndGlyphs">1</text>
<text x="80.77" y="566.4" style="font-family:'DejaVu Sans', 'Liberation Sans', sans-serif;font-size:17.87px;font-weight:normal" fill="#1a1a1a" stroke="#1a1a1a" stroke-width="0.35" textLength="11.37" lengthAdjust="spacingAndGlyphs">0</text>
<text x="120.39" y="566.4" style="font-family:'DejaVu Sans', 'Liberation Sans', sans-serif;font-size:17.87px;font-weight:normal" fill="#1a1a1a" stroke="#1a1a1a" stroke-width="0.35" textLength="22.73" lengthAdjust="spacingAndGlyphs">30</text>
<text x="165.87" y="566.4" style="font-family:'DejaVu Sans', 'Liberation Sans', sans-serif;font-size:17.87px;font-weight:normal" fill="#1a1a1a" stroke="#1a1a1a" stroke-width="0.35" textLength="22.73" lengthAdjust="spacingAndGlyphs">60</text>
<text x="211.26" y="566.4" style="font-family:'DejaVu Sans', 'Liberation Sans', sans-serif;font-size:17.87px;font-weight:normal" fill="#1a1a1a" stroke="#1a1a1a" stroke-width="0.35" textLength="22.73" lengthAdjust="spacingAndGlyphs">90</text>
<text x="250.61" y="566.4" style="font-family:'DejaVu Sans', 'Liberation Sans', sans-serif;font-size:17.87px;font-weight:normal" fill="#1a1a1a" stroke="#1a1a1a" stroke-width="0.35" textLength="34.1" lengthAdjust="spacingAndGlyphs">120</text>
<text x="296" y="566.4" style="font-family:'DejaVu Sans', 'Liberation Sans', sans-serif;font-size:17.87px;font-weight:normal" fill="#1a1a1a" stroke="#1a1a1a" stroke-width="0.35" textLength="34.1" lengthAdjust="spacingAndGlyphs">150</text>
<text x="341.39" y="566.4" style="font-family:'DejaVu Sans', 'Liberation Sans', sans-serif;font-size:17.87px;font-weight:normal" fill="#1a1a1a" stroke="#1a1a1a" stroke-width="0.35" textLength="34.1" lengthAdjust="spacingAndGlyphs">180</text>
<text x="387.05" y="566.4" style="font-family:'DejaVu Sans', 'Liberation Sans', sans-serif;font-size:17.87px;font-weight:normal" fill="#1a1a1a" stroke="#1a1a1a" stroke-width="0.35" textLength="34.1" lengthAdjust="spacingAndGlyphs">210</text>
<text x="432.44" y="566.4" style="font-family:'DejaVu Sans', 'Liberation Sans', sans-serif;font-size:17.87px;font-weight:normal" fill="#1a1a1a" stroke="#1a1a1a" stroke-width="0.35" textLength="34.1" lengthAdjust="spacingAndGlyphs">240</text>
<text x="477.83" y="566.4" style="font-family:'DejaVu Sans', 'Liberation Sans', sans-serif;font-size:17.87px;font-weight:normal" fill="#1a1a1a" stroke="#1a1a1a" stroke-width="0.35" textLength="34.1" lengthAdjust="spacingAndGlyphs">270</text>
<text x="523.22" y="566.4" style="font-family:'DejaVu Sans', 'Liberation Sans', sans-serif;font-size:17.87px;font-weight:normal" fill="#1a1a1a" stroke="#1a1a1a" stroke-width="0.35" textLength="34.1" lengthAdjust="spacingAndGlyphs">300</text>
<text x="568.61" y="566.4" style="font-family:'DejaVu Sans', 'Liberation Sans', sans-serif;font-size:17.87px;font-weight:normal" fill="#1a1a1a" stroke="#1a1a1a" stroke-width="0.35" textLength="34.1" lengthAdjust="spacingAndGlyphs">330</text>
<text x="614" y="566.4" style="font-family:'DejaVu Sans', 'Liberation Sans', sans-serif;font-size:17.87px;font-weight:normal" fill="#1a1a1a" stroke="#1a1a1a" stroke-width="0.35" textLength="34.1" lengthAdjust="spacingAndGlyphs">360</text>
<text transform="translate(29.2,461.28) rotate(-90)" style="font-family:'Liberation Sans', Arial, sans-serif;font-size:23.43px;font-weight:bold" fill="#000" textLength="51.02" lengthAdjust="spacingAndGlyphs">NDVI</text>
<text x="342.87" y="594.8" style="font-family:'Liberation Sans', Arial, sans-serif;font-size:21.14px;font-weight:bold" fill="#000" textLength="44.47" lengthAdjust="spacingAndGlyphs">DOY</text>
<text x="967.94" y="32.5" style="font-family:'Liberation Serif', 'Times New Roman', serif;font-size:29.85px;font-weight:bold" fill="#000" textLength="126.52" lengthAdjust="spacingAndGlyphs">(b) CSP#2</text>
<text x="699.61" y="78" style="font-family:'Liberation Serif', 'Times New Roman', serif;font-size:18.79px;font-weight:bold" fill="#000" textLength="40.24" lengthAdjust="spacingAndGlyphs">DM8</text>
<text x="694.62" y="130" style="font-family:'Liberation Serif', 'Times New Roman', serif;font-size:18.79px;font-weight:bold" fill="#000" textLength="48.34" lengthAdjust="spacingAndGlyphs">DM16</text>
<text x="694.89" y="181.7" style="font-family:'Liberation Serif', 'Times New Roman', serif;font-size:18.79px;font-weight:bold" fill="#000" textLength="46.75" lengthAdjust="spacingAndGlyphs">SG8A</text>
<text x="689.99" y="232.7" style="font-family:'Liberation Serif', 'Times New Roman', serif;font-size:18.79px;font-weight:bold" fill="#000" textLength="55.85" lengthAdjust="spacingAndGlyphs">SG16A</text>
<text x="769.55" y="255.8" style="font-family:'Liberation Serif', 'Times New Roman', serif;font-size:17.12px;font-weight:normal" fill="#000" textLength="8.56" lengthAdjust="spacingAndGlyphs">1</text>
<text x="815.41" y="255.8" style="font-family:'Liberation Serif', 'Times New Roman', serif;font-size:17.12px;font-weight:normal" fill="#000" textLength="8.56" lengthAdjust="spacingAndGlyphs">2</text>
<text x="861.63" y="255.8" style="font-family:'Liberation Serif', 'Times New Roman', serif;font-size:17.12px;font-weight:normal" fill="#000" textLength="8.56" lengthAdjust="spacingAndGlyphs">3</text>
<text x="908.42" y="255.8" style="font-family:'Liberation Serif', 'Times New Roman', serif;font-size:17.12px;font-weight:normal" fill="#000" textLength="8.56" lengthAdjust="spacingAndGlyphs">4</text>
<text x="954.35" y="255.8" style="font-family:'Liberation Serif', 'Times New Roman', serif;font-size:17.12px;font-weight:normal" fill="#000" textLength="8.56" lengthAdjust="spacingAndGlyphs">5</text>
<text x="1000.45" y="255.8" style="font-family:'Liberation Serif', 'Times New Roman', serif;font-size:17.12px;font-weight:normal" fill="#000" textLength="8.56" lengthAdjust="spacingAndGlyphs">6</text>
<text x="1046.98" y="255.8" style="font-family:'Liberation Serif', 'Times New Roman', serif;font-size:17.12px;font-weight:normal" fill="#000" textLength="8.56" lengthAdjust="spacingAndGlyphs">7</text>
<text x="1097.62" y="255.8" style="font-family:'Liberation Serif', 'Times New Roman', serif;font-size:17.12px;font-weight:normal" fill="#000" textLength="8.56" lengthAdjust="spacingAndGlyphs">8</text>
<text x="1143.81" y="255.8" style="font-family:'Liberation Serif', 'Times New Roman', serif;font-size:17.12px;font-weight:normal" fill="#000" textLength="8.56" lengthAdjust="spacingAndGlyphs">9</text>
<text x="1186.21" y="255.8" style="font-family:'Liberation Serif', 'Times New Roman', serif;font-size:17.12px;font-weight:normal" fill="#000" textLength="17.12" lengthAdjust="spacingAndGlyphs">10</text>
<text x="1237.09" y="255.8" style="font-family:'Liberation Serif', 'Times New Roman', serif;font-size:17.12px;font-weight:normal" fill="#000" textLength="16.49" lengthAdjust="spacingAndGlyphs">11</text>
<text x="1287.88" y="255.8" style="font-family:'Liberation Serif', 'Times New Roman', serif;font-size:17.12px;font-weight:normal" fill="#000" textLength="17.12" lengthAdjust="spacingAndGlyphs">12</text>
<text x="996.57" y="275.9" style="font-family:'Liberation Serif', 'Times New Roman', serif;font-size:22.62px;font-weight:bold" fill="#000" textLength="66.77" lengthAdjust="spacingAndGlyphs">Month</text>
<text x="710.35" y="325.8" style="font-family:'Liberation Serif', 'Times New Roman', serif;font-size:21.21px;font-weight:normal" fill="#000" textLength="21.18" lengthAdjust="spacingAndGlyphs">30</text>
<text x="752.98" y="325.8" style="font-family:'Liberation Serif', 'Times New Roman', serif;font-size:21.21px;font-weight:normal" fill="#000" textLength="20.22" lengthAdjust="spacingAndGlyphs">15</text>
<text x="794.32" y="325.8" style="font-family:'Liberation Serif', 'Times New Roman', serif;font-size:21.21px;font-weight:normal" fill="#000" textLength="11.36" lengthAdjust="spacingAndGlyphs">0</text>
<text x="849.5" y="296" style="font-family:'Liberation Serif', 'Times New Roman', serif;font-size:18.18px;font-weight:normal" fill="#111" textLength="127.56" lengthAdjust="spacingAndGlyphs">Averaged clear</text>
<text x="813.27" y="320.4" style="font-family:'Liberation Serif', 'Times New Roman', serif;font-size:20.3px;font-weight:normal" fill="#111" textLength="198.35" lengthAdjust="spacingAndGlyphs">observations per month</text>
<text x="1109.58" y="293.3" style="font-family:'Liberation Serif', 'Times New Roman', serif;font-size:19.85px;font-weight:normal" fill="#111" textLength="193.58" lengthAdjust="spacingAndGlyphs">NDVI time series from</text>
<text x="1150.35" y="319" style="font-family:'Liberation Serif', 'Times New Roman', serif;font-size:20.61px;font-weight:normal" fill="#111" textLength="111.5" lengthAdjust="spacingAndGlyphs">2001 to 2012</text>
<text x="730.77" y="540.6" style="font-family:'DejaVu Sans', 'Liberation Sans', sans-serif;font-size:16.53px;font-weight:normal" fill="#1a1a1a" stroke="#1a1a1a" stroke-width="0.35" textLength="12.2" lengthAdjust="spacingAndGlyphs">0</text>
<text x="713.05" y="501.58" style="font-family:'DejaVu Sans', 'Liberation Sans', sans-serif;font-size:16.53px;font-weight:normal" fill="#1a1a1a" stroke="#1a1a1a" stroke-width="0.35" textLength="30.5" lengthAdjust="spacingAndGlyphs">0.2</text>
<text x="712.09" y="462.56" style="font-family:'DejaVu Sans', 'Liberation Sans', sans-serif;font-size:16.53px;font-weight:normal" fill="#1a1a1a" stroke="#1a1a1a" stroke-width="0.35" textLength="30.5" lengthAdjust="spacingAndGlyphs">0.4</text>
<text x="712.28" y="423.54" style="font-family:'DejaVu Sans', 'Liberation Sans', sans-serif;font-size:16.53px;font-weight:normal" fill="#1a1a1a" stroke="#1a1a1a" stroke-width="0.35" textLength="30.5" lengthAdjust="spacingAndGlyphs">0.6</text>
<text x="712.47" y="384.52" style="font-family:'DejaVu Sans', 'Liberation Sans', sans-serif;font-size:16.53px;font-weight:normal" fill="#1a1a1a" stroke="#1a1a1a" stroke-width="0.35" textLength="30.5" lengthAdjust="spacingAndGlyphs">0.8</text>
<text x="731.15" y="345.5" style="font-family:'DejaVu Sans', 'Liberation Sans', sans-serif;font-size:16.53px;font-weight:normal" fill="#1a1a1a" stroke="#1a1a1a" stroke-width="0.35" textLength="12.2" lengthAdjust="spacingAndGlyphs">1</text>
<text x="755.03" y="569.2" style="font-family:'DejaVu Sans', 'Liberation Sans', sans-serif;font-size:18px;font-weight:normal" fill="#1a1a1a" stroke="#1a1a1a" stroke-width="0.35" textLength="11.45" lengthAdjust="spacingAndGlyphs">0</text>
<text x="794.54" y="569.2" style="font-family:'DejaVu Sans', 'Liberation Sans', sans-serif;font-size:18px;font-weight:normal" fill="#1a1a1a" stroke="#1a1a1a" stroke-width="0.35" textLength="22.9" lengthAdjust="spacingAndGlyphs">30</text>
<text x="839.95" y="569.2" style="font-family:'DejaVu Sans', 'Liberation Sans', sans-serif;font-size:18px;font-weight:normal" fill="#1a1a1a" stroke="#1a1a1a" stroke-width="0.35" textLength="22.9" lengthAdjust="spacingAndGlyphs">60</text>
<text x="885.28" y="569.2" style="font-family:'DejaVu Sans', 'Liberation Sans', sans-serif;font-size:18px;font-weight:normal" fill="#1a1a1a" stroke="#1a1a1a" stroke-width="0.35" textLength="22.9" lengthAdjust="spacingAndGlyphs">90</text>
<text x="924.51" y="569.2" style="font-family:'DejaVu Sans', 'Liberation Sans', sans-serif;font-size:18px;font-weight:normal" fill="#1a1a1a" stroke="#1a1a1a" stroke-width="0.35" textLength="34.36" lengthAdjust="spacingAndGlyphs">120</text>
<text x="969.84" y="569.2" style="font-family:'DejaVu Sans', 'Liberation Sans', sans-serif;font-size:18px;font-weight:normal" fill="#1a1a1a" stroke="#1a1a1a" stroke-width="0.35" textLength="34.36" lengthAdjust="spacingAndGlyphs">150</text>
<text x="1015.16" y="569.2" style="font-family:'DejaVu Sans', 'Liberation Sans', sans-serif;font-size:18px;font-weight:normal" fill="#1a1a1a" stroke="#1a1a1a" stroke-width="0.35" textLength="34.36" lengthAdjust="spacingAndGlyphs">180</text>
<text x="1060.76" y="569.2" style="font-family:'DejaVu Sans', 'Liberation Sans', sans-serif;font-size:18px;font-weight:normal" fill="#1a1a1a" stroke="#1a1a1a" stroke-width="0.35" textLength="34.36" lengthAdjust="spacingAndGlyphs">210</text>
<text x="1106.08" y="569.2" style="font-family:'DejaVu Sans', 'Liberation Sans', sans-serif;font-size:18px;font-weight:normal" fill="#1a1a1a" stroke="#1a1a1a" stroke-width="0.35" textLength="34.36" lengthAdjust="spacingAndGlyphs">240</text>
<text x="1151.4" y="569.2" style="font-family:'DejaVu Sans', 'Liberation Sans', sans-serif;font-size:18px;font-weight:normal" fill="#1a1a1a" stroke="#1a1a1a" stroke-width="0.35" textLength="34.36" lengthAdjust="spacingAndGlyphs">270</text>
<text x="1196.73" y="569.2" style="font-family:'DejaVu Sans', 'Liberation Sans', sans-serif;font-size:18px;font-weight:normal" fill="#1a1a1a" stroke="#1a1a1a" stroke-width="0.35" textLength="34.36" lengthAdjust="spacingAndGlyphs">300</text>
<text x="1242.05" y="569.2" style="font-family:'DejaVu Sans', 'Liberation Sans', sans-serif;font-size:18px;font-weight:normal" fill="#1a1a1a" stroke="#1a1a1a" stroke-width="0.35" textLength="34.36" lengthAdjust="spacingAndGlyphs">330</text>
<text x="1287.38" y="569.2" style="font-family:'DejaVu Sans', 'Liberation Sans', sans-serif;font-size:18px;font-weight:normal" fill="#1a1a1a" stroke="#1a1a1a" stroke-width="0.35" textLength="34.36" lengthAdjust="spacingAndGlyphs">360</text>
<text transform="translate(703.6,462.98) rotate(-90)" style="font-family:'Liberation Sans', Arial, sans-serif;font-size:23.86px;font-weight:bold" fill="#000" textLength="50.91" lengthAdjust="spacingAndGlyphs">NDVI</text>
<text x="1017.17" y="597.9" style="font-family:'Liberation Sans', Arial, sans-serif;font-size:20.86px;font-weight:bold" fill="#000" textLength="44.37" lengthAdjust="spacingAndGlyphs">DOY</text>
<text x="1643.14" y="32.5" style="font-family:'Liberation Serif', 'Times New Roman', serif;font-size:29.85px;font-weight:bold" fill="#000" textLength="123.13" lengthAdjust="spacingAndGlyphs">(c) CSP#3</text>
<text x="1373.62" y="78.6" style="font-family:'Liberation Serif', 'Times New Roman', serif;font-size:18.79px;font-weight:bold" fill="#000" textLength="39.53" lengthAdjust="spacingAndGlyphs">DM8</text>
<text x="1368.62" y="130.3" style="font-family:'Liberation Serif', 'Times New Roman', serif;font-size:18.79px;font-weight:bold" fill="#000" textLength="48.65" lengthAdjust="spacingAndGlyphs">DM16</text>
<text x="1368.59" y="181.7" style="font-family:'Liberation Serif', 'Times New Roman', serif;font-size:18.79px;font-weight:bold" fill="#000" textLength="46.65" lengthAdjust="spacingAndGlyphs">SG8A</text>
<text x="1363.98" y="233.4" style="font-family:'Liberation Serif', 'Times New Roman', serif;font-size:18.79px;font-weight:bold" fill="#000" textLength="55.96" lengthAdjust="spacingAndGlyphs">SG16A</text>
<text x="1443.15" y="255.8" style="font-family:'Liberation Serif', 'Times New Roman', serif;font-size:17.12px;font-weight:normal" fill="#000" textLength="8.56" lengthAdjust="spacingAndGlyphs">1</text>
<text x="1489.21" y="255.8" style="font-family:'Liberation Serif', 'Times New Roman', serif;font-size:17.12px;font-weight:normal" fill="#000" textLength="8.56" lengthAdjust="spacingAndGlyphs">2</text>
<text x="1535.13" y="255.8" style="font-family:'Liberation Serif', 'Times New Roman', serif;font-size:17.12px;font-weight:normal" fill="#000" textLength="8.56" lengthAdjust="spacingAndGlyphs">3</text>
<text x="1581.92" y="255.8" style="font-family:'Liberation Serif', 'Times New Roman', serif;font-size:17.12px;font-weight:normal" fill="#000" textLength="8.56" lengthAdjust="spacingAndGlyphs">4</text>
<text x="1627.75" y="255.8" style="font-family:'Liberation Serif', 'Times New Roman', serif;font-size:17.12px;font-weight:normal" fill="#000" textLength="8.56" lengthAdjust="spacingAndGlyphs">5</text>
<text x="1673.95" y="255.8" style="font-family:'Liberation Serif', 'Times New Roman', serif;font-size:17.12px;font-weight:normal" fill="#000" textLength="8.56" lengthAdjust="spacingAndGlyphs">6</text>
<text x="1720.18" y="255.8" style="font-family:'Liberation Serif', 'Times New Roman', serif;font-size:17.12px;font-weight:normal" fill="#000" textLength="8.56" lengthAdjust="spacingAndGlyphs">7</text>
<text x="1771.32" y="255.8" style="font-family:'Liberation Serif', 'Times New Roman', serif;font-size:17.12px;font-weight:normal" fill="#000" textLength="8.56" lengthAdjust="spacingAndGlyphs">8</text>
<text x="1817.51" y="255.8" style="font-family:'Liberation Serif', 'Times New Roman', serif;font-size:17.12px;font-weight:normal" fill="#000" textLength="8.56" lengthAdjust="spacingAndGlyphs">9</text>
<text x="1859.41" y="255.8" style="font-family:'Liberation Serif', 'Times New Roman', serif;font-size:17.12px;font-weight:normal" fill="#000" textLength="17.12" lengthAdjust="spacingAndGlyphs">10</text>
<text x="1909.89" y="255.8" style="font-family:'Liberation Serif', 'Times New Roman', serif;font-size:17.12px;font-weight:normal" fill="#000" textLength="16.49" lengthAdjust="spacingAndGlyphs">11</text>
<text x="1961.18" y="255.8" style="font-family:'Liberation Serif', 'Times New Roman', serif;font-size:17.12px;font-weight:normal" fill="#000" textLength="17.12" lengthAdjust="spacingAndGlyphs">12</text>
<text x="1670.27" y="275.9" style="font-family:'Liberation Serif', 'Times New Roman', serif;font-size:22.62px;font-weight:bold" fill="#000" textLength="66.87" lengthAdjust="spacingAndGlyphs">Month</text>
<text x="1379.45" y="323.5" style="font-family:'Liberation Serif', 'Times New Roman', serif;font-size:19.09px;font-weight:normal" fill="#000" textLength="21.18" lengthAdjust="spacingAndGlyphs">30</text>
<text x="1422.69" y="323.5" style="font-family:'Liberation Serif', 'Times New Roman', serif;font-size:19.09px;font-weight:normal" fill="#000" textLength="20.11" lengthAdjust="spacingAndGlyphs">15</text>
<text x="1464.09" y="323.5" style="font-family:'Liberation Serif', 'Times New Roman', serif;font-size:19.09px;font-weight:normal" fill="#000" textLength="10.11" lengthAdjust="spacingAndGlyphs">0</text>
<text x="1522.1" y="294.8" style="font-family:'Liberation Serif', 'Times New Roman', serif;font-size:19.09px;font-weight:normal" fill="#111" textLength="127.56" lengthAdjust="spacingAndGlyphs">Averaged clear</text>
<text x="1486.07" y="319.9" style="font-family:'Liberation Serif', 'Times New Roman', serif;font-size:20.3px;font-weight:normal" fill="#111" textLength="197.84" lengthAdjust="spacingAndGlyphs">observations per month</text>
<text x="1783.28" y="293.3" style="font-family:'Liberation Serif', 'Times New Roman', serif;font-size:20.62px;font-weight:normal" fill="#111" textLength="193.58" lengthAdjust="spacingAndGlyphs">NDVI time series from</text>
<text x="1824.15" y="318.7" style="font-family:'Liberation Serif', 'Times New Roman', serif;font-size:20.61px;font-weight:normal" fill="#111" textLength="111.91" lengthAdjust="spacingAndGlyphs">2001 to 2012</text>
<text x="1404.67" y="540.7" style="font-family:'DejaVu Sans', 'Liberation Sans', sans-serif;font-size:16.53px;font-weight:normal" fill="#1a1a1a" stroke="#1a1a1a" stroke-width="0.35" textLength="12.2" lengthAdjust="spacingAndGlyphs">0</text>
<text x="1386.95" y="501.66" style="font-family:'DejaVu Sans', 'Liberation Sans', sans-serif;font-size:16.53px;font-weight:normal" fill="#1a1a1a" stroke="#1a1a1a" stroke-width="0.35" textLength="30.5" lengthAdjust="spacingAndGlyphs">0.2</text>
<text x="1385.99" y="462.62" style="font-family:'DejaVu Sans', 'Liberation Sans', sans-serif;font-size:16.53px;font-weight:normal" fill="#1a1a1a" stroke="#1a1a1a" stroke-width="0.35" textLength="30.5" lengthAdjust="spacingAndGlyphs">0.4</text>
<text x="1386.18" y="423.58" style="font-family:'DejaVu Sans', 'Liberation Sans', sans-serif;font-size:16.53px;font-weight:normal" fill="#1a1a1a" stroke="#1a1a1a" stroke-width="0.35" textLength="30.5" lengthAdjust="spacingAndGlyphs">0.6</text>
<text x="1386.37" y="384.54" style="font-family:'DejaVu Sans', 'Liberation Sans', sans-serif;font-size:16.53px;font-weight:normal" fill="#1a1a1a" stroke="#1a1a1a" stroke-width="0.35" textLength="30.5" lengthAdjust="spacingAndGlyphs">0.8</text>
<text x="1405.05" y="345.5" style="font-family:'DejaVu Sans', 'Liberation Sans', sans-serif;font-size:16.53px;font-weight:normal" fill="#1a1a1a" stroke="#1a1a1a" stroke-width="0.35" textLength="12.2" lengthAdjust="spacingAndGlyphs">1</text>
<text x="1429.24" y="569" style="font-family:'DejaVu Sans', 'Liberation Sans', sans-serif;font-size:17.33px;font-weight:normal" fill="#1a1a1a" stroke="#1a1a1a" stroke-width="0.35" textLength="11.03" lengthAdjust="spacingAndGlyphs">0</text>
<text x="1468.94" y="569" style="font-family:'DejaVu Sans', 'Liberation Sans', sans-serif;font-size:17.33px;font-weight:normal" fill="#1a1a1a" stroke="#1a1a1a" stroke-width="0.35" textLength="22.06" lengthAdjust="spacingAndGlyphs">30</text>
<text x="1514.33" y="569" style="font-family:'DejaVu Sans', 'Liberation Sans', sans-serif;font-size:17.33px;font-weight:normal" fill="#1a1a1a" stroke="#1a1a1a" stroke-width="0.35" textLength="22.06" lengthAdjust="spacingAndGlyphs">60</text>
<text x="1559.63" y="569" style="font-family:'DejaVu Sans', 'Liberation Sans', sans-serif;font-size:17.33px;font-weight:normal" fill="#1a1a1a" stroke="#1a1a1a" stroke-width="0.35" textLength="22.06" lengthAdjust="spacingAndGlyphs">90</text>
<text x="1599.07" y="569" style="font-family:'DejaVu Sans', 'Liberation Sans', sans-serif;font-size:17.33px;font-weight:normal" fill="#1a1a1a" stroke="#1a1a1a" stroke-width="0.35" textLength="33.08" lengthAdjust="spacingAndGlyphs">120</text>
<text x="1644.37" y="569" style="font-family:'DejaVu Sans', 'Liberation Sans', sans-serif;font-size:17.33px;font-weight:normal" fill="#1a1a1a" stroke="#1a1a1a" stroke-width="0.35" textLength="33.08" lengthAdjust="spacingAndGlyphs">150</text>
<text x="1689.67" y="569" style="font-family:'DejaVu Sans', 'Liberation Sans', sans-serif;font-size:17.33px;font-weight:normal" fill="#1a1a1a" stroke="#1a1a1a" stroke-width="0.35" textLength="33.08" lengthAdjust="spacingAndGlyphs">180</text>
<text x="1735.23" y="569" style="font-family:'DejaVu Sans', 'Liberation Sans', sans-serif;font-size:17.33px;font-weight:normal" fill="#1a1a1a" stroke="#1a1a1a" stroke-width="0.35" textLength="33.08" lengthAdjust="spacingAndGlyphs">210</text>
<text x="1780.53" y="569" style="font-family:'DejaVu Sans', 'Liberation Sans', sans-serif;font-size:17.33px;font-weight:normal" fill="#1a1a1a" stroke="#1a1a1a" stroke-width="0.35" textLength="33.08" lengthAdjust="spacingAndGlyphs">240</text>
<text x="1825.83" y="569" style="font-family:'DejaVu Sans', 'Liberation Sans', sans-serif;font-size:17.33px;font-weight:normal" fill="#1a1a1a" stroke="#1a1a1a" stroke-width="0.35" textLength="33.08" lengthAdjust="spacingAndGlyphs">270</text>
<text x="1871.13" y="569" style="font-family:'DejaVu Sans', 'Liberation Sans', sans-serif;font-size:17.33px;font-weight:normal" fill="#1a1a1a" stroke="#1a1a1a" stroke-width="0.35" textLength="33.08" lengthAdjust="spacingAndGlyphs">300</text>
<text x="1916.43" y="569" style="font-family:'DejaVu Sans', 'Liberation Sans', sans-serif;font-size:17.33px;font-weight:normal" fill="#1a1a1a" stroke="#1a1a1a" stroke-width="0.35" textLength="33.08" lengthAdjust="spacingAndGlyphs">330</text>
<text x="1961.73" y="569" style="font-family:'DejaVu Sans', 'Liberation Sans', sans-serif;font-size:17.33px;font-weight:normal" fill="#1a1a1a" stroke="#1a1a1a" stroke-width="0.35" textLength="33.08" lengthAdjust="spacingAndGlyphs">360</text>
<text transform="translate(1376.9,463.48) rotate(-90)" style="font-family:'Liberation Sans', Arial, sans-serif;font-size:23.86px;font-weight:bold" fill="#000" textLength="51.12" lengthAdjust="spacingAndGlyphs">NDVI</text>
<text x="1691.29" y="597.9" style="font-family:'Liberation Sans', Arial, sans-serif;font-size:21.57px;font-weight:bold" fill="#000" textLength="43.86" lengthAdjust="spacingAndGlyphs">DOY</text>
</svg>
</body></html>
